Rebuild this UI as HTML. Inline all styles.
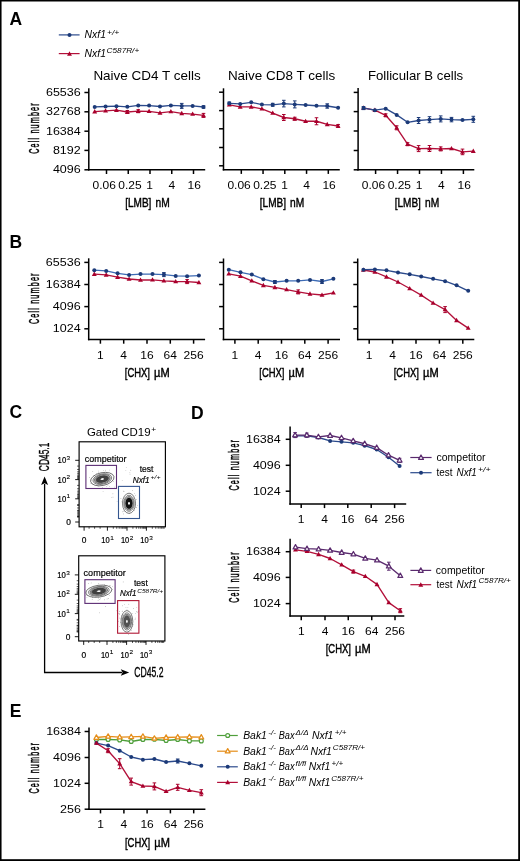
<!DOCTYPE html><html><head><meta charset="utf-8"><style>html,body{margin:0;padding:0;background:#fff;}body{width:520px;height:861px;overflow:hidden;}svg{display:block;will-change:transform;}text{font-family:"Liberation Sans",sans-serif;}</style></head><body>
<svg width="520" height="861" viewBox="0 0 520 861">
<rect x="0" y="0" width="520" height="861" fill="#fff"/>
<text x="9.60" y="25.20" font-size="17.5" font-weight="bold" fill="#000">A</text>
<line x1="58.80" y1="34.90" x2="79.60" y2="34.90" stroke="#2b4a8c" stroke-width="1.2"/>
<circle cx="69.50" cy="34.90" r="2.0" fill="#1c3a78"/>
<text x="84.60" y="38.10" font-size="11.2" textLength="21.4" lengthAdjust="spacingAndGlyphs" font-style="italic" fill="#000">Nxf1</text>
<text x="106.90" y="34.60" font-size="8.0" textLength="12.4" lengthAdjust="spacingAndGlyphs" font-style="italic" fill="#000">+/+</text>
<line x1="58.80" y1="53.60" x2="79.60" y2="53.60" stroke="#b3103a" stroke-width="1.2"/>
<path d="M69.50 51.30L71.95 55.65L67.05 55.65Z" fill="#a8002c"/>
<text x="84.60" y="57.00" font-size="11.2" textLength="21.4" lengthAdjust="spacingAndGlyphs" font-style="italic" fill="#000">Nxf1</text>
<text x="106.60" y="52.70" font-size="7.6" textLength="32.6" lengthAdjust="spacingAndGlyphs" font-style="italic" fill="#000">C587R/+</text>
<text x="93.40" y="80.00" font-size="13.3" textLength="107.3" lengthAdjust="spacingAndGlyphs" fill="#000">Naive CD4 T cells</text>
<text x="227.90" y="80.00" font-size="13.3" textLength="107.3" lengthAdjust="spacingAndGlyphs" fill="#000">Naive CD8 T cells</text>
<text x="367.90" y="79.90" font-size="13.3" textLength="95.3" lengthAdjust="spacingAndGlyphs" fill="#000">Follicular B cells</text>
<line x1="88.80" y1="88.30" x2="88.80" y2="170.55" stroke="#000" stroke-width="1.5"/>
<line x1="88.05" y1="169.80" x2="205.20" y2="169.80" stroke="#000" stroke-width="1.5"/>
<line x1="84.40" y1="92.50" x2="88.80" y2="92.50" stroke="#000" stroke-width="1.5"/>
<text x="45.95" y="95.90" font-size="11.3" textLength="34.75" lengthAdjust="spacingAndGlyphs" fill="#000">65536</text>
<line x1="84.40" y1="111.80" x2="88.80" y2="111.80" stroke="#000" stroke-width="1.5"/>
<text x="45.95" y="115.20" font-size="11.3" textLength="34.75" lengthAdjust="spacingAndGlyphs" fill="#000">32768</text>
<line x1="84.40" y1="131.20" x2="88.80" y2="131.20" stroke="#000" stroke-width="1.5"/>
<text x="45.95" y="134.60" font-size="11.3" textLength="34.75" lengthAdjust="spacingAndGlyphs" fill="#000">16384</text>
<line x1="84.40" y1="150.40" x2="88.80" y2="150.40" stroke="#000" stroke-width="1.5"/>
<text x="52.90" y="153.80" font-size="11.3" textLength="27.8" lengthAdjust="spacingAndGlyphs" fill="#000">8192</text>
<line x1="84.40" y1="169.80" x2="88.80" y2="169.80" stroke="#000" stroke-width="1.5"/>
<text x="52.90" y="173.20" font-size="11.3" textLength="27.8" lengthAdjust="spacingAndGlyphs" fill="#000">4096</text>
<line x1="106.50" y1="169.80" x2="106.50" y2="174.00" stroke="#000" stroke-width="1.5"/>
<text x="92.63" y="188.90" font-size="11.3" textLength="23.34" lengthAdjust="spacingAndGlyphs" fill="#000">0.06</text>
<line x1="128.25" y1="169.80" x2="128.25" y2="174.00" stroke="#000" stroke-width="1.5"/>
<text x="118.38" y="188.90" font-size="11.3" textLength="23.34" lengthAdjust="spacingAndGlyphs" fill="#000">0.25</text>
<line x1="150.00" y1="169.80" x2="150.00" y2="174.00" stroke="#000" stroke-width="1.5"/>
<text x="146.36" y="188.90" font-size="11.3" textLength="6.68" lengthAdjust="spacingAndGlyphs" fill="#000">1</text>
<line x1="171.75" y1="169.80" x2="171.75" y2="174.00" stroke="#000" stroke-width="1.5"/>
<text x="168.41" y="188.90" font-size="11.3" textLength="6.68" lengthAdjust="spacingAndGlyphs" fill="#000">4</text>
<line x1="193.50" y1="169.80" x2="193.50" y2="174.00" stroke="#000" stroke-width="1.5"/>
<text x="187.62" y="188.90" font-size="11.3" textLength="13.36" lengthAdjust="spacingAndGlyphs" fill="#000">16</text>
<text transform="translate(38.60,128.60) rotate(-90) scale(0.5,1)" x="1.17" y="0" font-size="14.4" text-anchor="middle" letter-spacing="2.34" fill="#000" stroke="#000" stroke-width="0.5">Cell number</text>
<text x="125.20" y="206.80" font-size="13.4" textLength="26.20" lengthAdjust="spacingAndGlyphs" fill="#000" stroke="#000" stroke-width="0.45">[LMB]</text>
<text x="155.50" y="206.80" font-size="13.4" textLength="14.20" lengthAdjust="spacingAndGlyphs" fill="#000" stroke="#000" stroke-width="0.45">nM</text>
<polyline points="94.70,111.70 105.58,110.80 116.46,110.20 127.34,112.00 138.22,111.20 149.10,111.30 159.98,112.90 170.86,111.60 181.74,113.40 192.62,114.10 203.50,115.40" fill="none" stroke="#b3103a" stroke-width="1.35" stroke-linejoin="round"/>
<path d="M127.34 110.50V113.50M125.54 110.50H129.14M125.54 113.50H129.14" stroke="#a8002c" stroke-width="1.0" fill="none"/>
<path d="M138.22 109.70V112.70M136.42 109.70H140.02M136.42 112.70H140.02" stroke="#a8002c" stroke-width="1.0" fill="none"/>
<path d="M203.50 113.40V117.40M201.70 113.40H205.30M201.70 117.40H205.30" stroke="#a8002c" stroke-width="1.0" fill="none"/>
<path d="M94.70 109.10L97.15 113.45L92.25 113.45Z" fill="#a8002c"/>
<path d="M105.58 108.20L108.03 112.55L103.13 112.55Z" fill="#a8002c"/>
<path d="M116.46 107.60L118.91 111.95L114.01 111.95Z" fill="#a8002c"/>
<path d="M127.34 109.40L129.79 113.75L124.89 113.75Z" fill="#a8002c"/>
<path d="M138.22 108.60L140.67 112.95L135.77 112.95Z" fill="#a8002c"/>
<path d="M149.10 108.70L151.55 113.05L146.65 113.05Z" fill="#a8002c"/>
<path d="M159.98 110.30L162.43 114.65L157.53 114.65Z" fill="#a8002c"/>
<path d="M170.86 109.00L173.31 113.35L168.41 113.35Z" fill="#a8002c"/>
<path d="M181.74 110.80L184.19 115.15L179.29 115.15Z" fill="#a8002c"/>
<path d="M192.62 111.50L195.07 115.85L190.17 115.85Z" fill="#a8002c"/>
<path d="M203.50 112.80L205.95 117.15L201.05 117.15Z" fill="#a8002c"/>
<polyline points="94.70,106.90 105.58,106.50 116.46,106.20 127.34,106.80 138.22,105.40 149.10,105.60 159.98,106.50 170.86,105.40 181.74,105.90 192.62,105.90 203.50,107.00" fill="none" stroke="#2b4a8c" stroke-width="1.35" stroke-linejoin="round"/>
<path d="M181.74 103.40V108.40M179.94 103.40H183.54M179.94 108.40H183.54" stroke="#1c3a78" stroke-width="1.0" fill="none"/>
<path d="M203.50 105.80V108.20M201.70 105.80H205.30M201.70 108.20H205.30" stroke="#1c3a78" stroke-width="1.0" fill="none"/>
<circle cx="94.70" cy="106.90" r="2.0" fill="#1c3a78"/>
<circle cx="105.58" cy="106.50" r="2.0" fill="#1c3a78"/>
<circle cx="116.46" cy="106.20" r="2.0" fill="#1c3a78"/>
<circle cx="127.34" cy="106.80" r="2.0" fill="#1c3a78"/>
<circle cx="138.22" cy="105.40" r="2.0" fill="#1c3a78"/>
<circle cx="149.10" cy="105.60" r="2.0" fill="#1c3a78"/>
<circle cx="159.98" cy="106.50" r="2.0" fill="#1c3a78"/>
<circle cx="170.86" cy="105.40" r="2.0" fill="#1c3a78"/>
<circle cx="181.74" cy="105.90" r="2.0" fill="#1c3a78"/>
<circle cx="192.62" cy="105.90" r="2.0" fill="#1c3a78"/>
<circle cx="203.50" cy="107.00" r="2.0" fill="#1c3a78"/>
<line x1="223.50" y1="88.30" x2="223.50" y2="170.45" stroke="#000" stroke-width="1.5"/>
<line x1="222.75" y1="169.70" x2="339.80" y2="169.70" stroke="#000" stroke-width="1.5"/>
<line x1="219.10" y1="92.20" x2="223.50" y2="92.20" stroke="#000" stroke-width="1.5"/>
<line x1="219.10" y1="110.60" x2="223.50" y2="110.60" stroke="#000" stroke-width="1.5"/>
<line x1="219.10" y1="128.80" x2="223.50" y2="128.80" stroke="#000" stroke-width="1.5"/>
<line x1="219.10" y1="147.50" x2="223.50" y2="147.50" stroke="#000" stroke-width="1.5"/>
<line x1="219.10" y1="165.80" x2="223.50" y2="165.80" stroke="#000" stroke-width="1.5"/>
<line x1="241.30" y1="169.70" x2="241.30" y2="173.90" stroke="#000" stroke-width="1.5"/>
<text x="227.43" y="188.90" font-size="11.3" textLength="23.34" lengthAdjust="spacingAndGlyphs" fill="#000">0.06</text>
<line x1="263.05" y1="169.70" x2="263.05" y2="173.90" stroke="#000" stroke-width="1.5"/>
<text x="253.18" y="188.90" font-size="11.3" textLength="23.34" lengthAdjust="spacingAndGlyphs" fill="#000">0.25</text>
<line x1="284.80" y1="169.70" x2="284.80" y2="173.90" stroke="#000" stroke-width="1.5"/>
<text x="281.16" y="188.90" font-size="11.3" textLength="6.68" lengthAdjust="spacingAndGlyphs" fill="#000">1</text>
<line x1="306.55" y1="169.70" x2="306.55" y2="173.90" stroke="#000" stroke-width="1.5"/>
<text x="303.21" y="188.90" font-size="11.3" textLength="6.68" lengthAdjust="spacingAndGlyphs" fill="#000">4</text>
<line x1="328.30" y1="169.70" x2="328.30" y2="173.90" stroke="#000" stroke-width="1.5"/>
<text x="322.42" y="188.90" font-size="11.3" textLength="13.36" lengthAdjust="spacingAndGlyphs" fill="#000">16</text>
<text x="259.80" y="206.80" font-size="13.4" textLength="26.20" lengthAdjust="spacingAndGlyphs" fill="#000" stroke="#000" stroke-width="0.45">[LMB]</text>
<text x="290.10" y="206.80" font-size="13.4" textLength="14.20" lengthAdjust="spacingAndGlyphs" fill="#000" stroke="#000" stroke-width="0.45">nM</text>
<polyline points="229.30,104.80 240.20,106.90 251.20,106.90 261.90,108.80 272.70,113.10 283.80,117.50 294.75,118.75 305.60,121.25 316.50,121.25 327.25,124.40 338.10,126.00" fill="none" stroke="#b3103a" stroke-width="1.35" stroke-linejoin="round"/>
<path d="M283.80 114.50V120.50M282.00 114.50H285.60M282.00 120.50H285.60" stroke="#a8002c" stroke-width="1.0" fill="none"/>
<path d="M294.75 117.25V120.25M292.95 117.25H296.55M292.95 120.25H296.55" stroke="#a8002c" stroke-width="1.0" fill="none"/>
<path d="M316.50 117.75V124.75M314.70 117.75H318.30M314.70 124.75H318.30" stroke="#a8002c" stroke-width="1.0" fill="none"/>
<path d="M338.10 124.50V127.50M336.30 124.50H339.90M336.30 127.50H339.90" stroke="#a8002c" stroke-width="1.0" fill="none"/>
<path d="M229.30 102.20L231.75 106.55L226.85 106.55Z" fill="#a8002c"/>
<path d="M240.20 104.30L242.65 108.65L237.75 108.65Z" fill="#a8002c"/>
<path d="M251.20 104.30L253.65 108.65L248.75 108.65Z" fill="#a8002c"/>
<path d="M261.90 106.20L264.35 110.55L259.45 110.55Z" fill="#a8002c"/>
<path d="M272.70 110.50L275.15 114.85L270.25 114.85Z" fill="#a8002c"/>
<path d="M283.80 114.90L286.25 119.25L281.35 119.25Z" fill="#a8002c"/>
<path d="M294.75 116.15L297.20 120.50L292.30 120.50Z" fill="#a8002c"/>
<path d="M305.60 118.65L308.05 123.00L303.15 123.00Z" fill="#a8002c"/>
<path d="M316.50 118.65L318.95 123.00L314.05 123.00Z" fill="#a8002c"/>
<path d="M327.25 121.80L329.70 126.15L324.80 126.15Z" fill="#a8002c"/>
<path d="M338.10 123.40L340.55 127.75L335.65 127.75Z" fill="#a8002c"/>
<polyline points="229.30,103.30 240.20,103.90 251.20,102.30 261.90,104.60 272.70,104.80 283.80,103.60 294.75,104.40 305.60,105.00 316.50,105.75 327.25,106.00 338.10,107.75" fill="none" stroke="#2b4a8c" stroke-width="1.35" stroke-linejoin="round"/>
<path d="M229.30 102.10V104.50M227.50 102.10H231.10M227.50 104.50H231.10" stroke="#1c3a78" stroke-width="1.0" fill="none"/>
<path d="M272.70 103.30V106.30M270.90 103.30H274.50M270.90 106.30H274.50" stroke="#1c3a78" stroke-width="1.0" fill="none"/>
<path d="M283.80 100.30V106.90M282.00 100.30H285.60M282.00 106.90H285.60" stroke="#1c3a78" stroke-width="1.0" fill="none"/>
<path d="M294.75 100.90V107.90M292.95 100.90H296.55M292.95 107.90H296.55" stroke="#1c3a78" stroke-width="1.0" fill="none"/>
<path d="M327.25 103.80V108.20M325.45 103.80H329.05M325.45 108.20H329.05" stroke="#1c3a78" stroke-width="1.0" fill="none"/>
<circle cx="229.30" cy="103.30" r="2.0" fill="#1c3a78"/>
<circle cx="240.20" cy="103.90" r="2.0" fill="#1c3a78"/>
<circle cx="251.20" cy="102.30" r="2.0" fill="#1c3a78"/>
<circle cx="261.90" cy="104.60" r="2.0" fill="#1c3a78"/>
<circle cx="272.70" cy="104.80" r="2.0" fill="#1c3a78"/>
<circle cx="283.80" cy="103.60" r="2.0" fill="#1c3a78"/>
<circle cx="294.75" cy="104.40" r="2.0" fill="#1c3a78"/>
<circle cx="305.60" cy="105.00" r="2.0" fill="#1c3a78"/>
<circle cx="316.50" cy="105.75" r="2.0" fill="#1c3a78"/>
<circle cx="327.25" cy="106.00" r="2.0" fill="#1c3a78"/>
<circle cx="338.10" cy="107.75" r="2.0" fill="#1c3a78"/>
<line x1="358.10" y1="88.00" x2="358.10" y2="170.55" stroke="#000" stroke-width="1.5"/>
<line x1="357.35" y1="169.80" x2="474.30" y2="169.80" stroke="#000" stroke-width="1.5"/>
<line x1="353.70" y1="92.40" x2="358.10" y2="92.40" stroke="#000" stroke-width="1.5"/>
<line x1="353.70" y1="111.60" x2="358.10" y2="111.60" stroke="#000" stroke-width="1.5"/>
<line x1="353.70" y1="131.00" x2="358.10" y2="131.00" stroke="#000" stroke-width="1.5"/>
<line x1="353.70" y1="150.50" x2="358.10" y2="150.50" stroke="#000" stroke-width="1.5"/>
<line x1="353.70" y1="169.80" x2="358.10" y2="169.80" stroke="#000" stroke-width="1.5"/>
<line x1="375.60" y1="169.80" x2="375.60" y2="174.00" stroke="#000" stroke-width="1.5"/>
<text x="361.73" y="188.90" font-size="11.3" textLength="23.34" lengthAdjust="spacingAndGlyphs" fill="#000">0.06</text>
<line x1="397.55" y1="169.80" x2="397.55" y2="174.00" stroke="#000" stroke-width="1.5"/>
<text x="387.68" y="188.90" font-size="11.3" textLength="23.34" lengthAdjust="spacingAndGlyphs" fill="#000">0.25</text>
<line x1="419.50" y1="169.80" x2="419.50" y2="174.00" stroke="#000" stroke-width="1.5"/>
<text x="415.86" y="188.90" font-size="11.3" textLength="6.68" lengthAdjust="spacingAndGlyphs" fill="#000">1</text>
<line x1="441.45" y1="169.80" x2="441.45" y2="174.00" stroke="#000" stroke-width="1.5"/>
<text x="438.11" y="188.90" font-size="11.3" textLength="6.68" lengthAdjust="spacingAndGlyphs" fill="#000">4</text>
<line x1="463.40" y1="169.80" x2="463.40" y2="174.00" stroke="#000" stroke-width="1.5"/>
<text x="457.52" y="188.90" font-size="11.3" textLength="13.36" lengthAdjust="spacingAndGlyphs" fill="#000">16</text>
<text x="394.70" y="206.80" font-size="13.4" textLength="26.20" lengthAdjust="spacingAndGlyphs" fill="#000" stroke="#000" stroke-width="0.45">[LMB]</text>
<text x="425.00" y="206.80" font-size="13.4" textLength="14.20" lengthAdjust="spacingAndGlyphs" fill="#000" stroke="#000" stroke-width="0.45">nM</text>
<polyline points="363.50,107.90 374.90,110.20 385.70,115.30 396.70,127.80 407.60,144.20 418.60,148.60 429.50,148.50 440.70,148.90 451.50,148.50 462.50,151.90 473.30,151.20" fill="none" stroke="#b3103a" stroke-width="1.35" stroke-linejoin="round"/>
<path d="M385.70 113.80V116.80M383.90 113.80H387.50M383.90 116.80H387.50" stroke="#a8002c" stroke-width="1.0" fill="none"/>
<path d="M396.70 125.80V129.80M394.90 125.80H398.50M394.90 129.80H398.50" stroke="#a8002c" stroke-width="1.0" fill="none"/>
<path d="M407.60 142.70V145.70M405.80 142.70H409.40M405.80 145.70H409.40" stroke="#a8002c" stroke-width="1.0" fill="none"/>
<path d="M418.60 145.60V151.60M416.80 145.60H420.40M416.80 151.60H420.40" stroke="#a8002c" stroke-width="1.0" fill="none"/>
<path d="M429.50 145.50V151.50M427.70 145.50H431.30M427.70 151.50H431.30" stroke="#a8002c" stroke-width="1.0" fill="none"/>
<path d="M440.70 146.90V150.90M438.90 146.90H442.50M438.90 150.90H442.50" stroke="#a8002c" stroke-width="1.0" fill="none"/>
<path d="M462.50 149.10V154.70M460.70 149.10H464.30M460.70 154.70H464.30" stroke="#a8002c" stroke-width="1.0" fill="none"/>
<path d="M363.50 105.30L365.95 109.65L361.05 109.65Z" fill="#a8002c"/>
<path d="M374.90 107.60L377.35 111.95L372.45 111.95Z" fill="#a8002c"/>
<path d="M385.70 112.70L388.15 117.05L383.25 117.05Z" fill="#a8002c"/>
<path d="M396.70 125.20L399.15 129.55L394.25 129.55Z" fill="#a8002c"/>
<path d="M407.60 141.60L410.05 145.95L405.15 145.95Z" fill="#a8002c"/>
<path d="M418.60 146.00L421.05 150.35L416.15 150.35Z" fill="#a8002c"/>
<path d="M429.50 145.90L431.95 150.25L427.05 150.25Z" fill="#a8002c"/>
<path d="M440.70 146.30L443.15 150.65L438.25 150.65Z" fill="#a8002c"/>
<path d="M451.50 145.90L453.95 150.25L449.05 150.25Z" fill="#a8002c"/>
<path d="M462.50 149.30L464.95 153.65L460.05 153.65Z" fill="#a8002c"/>
<path d="M473.30 148.60L475.75 152.95L470.85 152.95Z" fill="#a8002c"/>
<polyline points="363.50,108.10 374.90,110.20 385.70,108.70 396.70,114.90 407.60,122.30 418.60,120.50 429.50,119.70 440.70,118.90 451.50,119.60 462.50,120.00 473.30,119.30" fill="none" stroke="#2b4a8c" stroke-width="1.35" stroke-linejoin="round"/>
<path d="M363.50 106.60V109.60M361.70 106.60H365.30M361.70 109.60H365.30" stroke="#1c3a78" stroke-width="1.0" fill="none"/>
<path d="M418.60 117.50V123.50M416.80 117.50H420.40M416.80 123.50H420.40" stroke="#1c3a78" stroke-width="1.0" fill="none"/>
<path d="M429.50 116.70V122.70M427.70 116.70H431.30M427.70 122.70H431.30" stroke="#1c3a78" stroke-width="1.0" fill="none"/>
<path d="M440.70 115.90V121.90M438.90 115.90H442.50M438.90 121.90H442.50" stroke="#1c3a78" stroke-width="1.0" fill="none"/>
<path d="M451.50 117.40V121.80M449.70 117.40H453.30M449.70 121.80H453.30" stroke="#1c3a78" stroke-width="1.0" fill="none"/>
<path d="M473.30 116.30V122.30M471.50 116.30H475.10M471.50 122.30H475.10" stroke="#1c3a78" stroke-width="1.0" fill="none"/>
<circle cx="363.50" cy="108.10" r="2.0" fill="#1c3a78"/>
<circle cx="374.90" cy="110.20" r="2.0" fill="#1c3a78"/>
<circle cx="385.70" cy="108.70" r="2.0" fill="#1c3a78"/>
<circle cx="396.70" cy="114.90" r="2.0" fill="#1c3a78"/>
<circle cx="407.60" cy="122.30" r="2.0" fill="#1c3a78"/>
<circle cx="418.60" cy="120.50" r="2.0" fill="#1c3a78"/>
<circle cx="429.50" cy="119.70" r="2.0" fill="#1c3a78"/>
<circle cx="440.70" cy="118.90" r="2.0" fill="#1c3a78"/>
<circle cx="451.50" cy="119.60" r="2.0" fill="#1c3a78"/>
<circle cx="462.50" cy="120.00" r="2.0" fill="#1c3a78"/>
<circle cx="473.30" cy="119.30" r="2.0" fill="#1c3a78"/>
<text x="9.60" y="248.20" font-size="17.5" font-weight="bold" fill="#000">B</text>
<line x1="88.70" y1="258.30" x2="88.70" y2="340.25" stroke="#000" stroke-width="1.5"/>
<line x1="87.95" y1="339.50" x2="205.10" y2="339.50" stroke="#000" stroke-width="1.5"/>
<line x1="84.30" y1="262.40" x2="88.70" y2="262.40" stroke="#000" stroke-width="1.5"/>
<text x="45.85" y="265.80" font-size="11.3" textLength="34.75" lengthAdjust="spacingAndGlyphs" fill="#000">65536</text>
<line x1="84.30" y1="284.50" x2="88.70" y2="284.50" stroke="#000" stroke-width="1.5"/>
<text x="45.85" y="287.90" font-size="11.3" textLength="34.75" lengthAdjust="spacingAndGlyphs" fill="#000">16384</text>
<line x1="84.30" y1="306.60" x2="88.70" y2="306.60" stroke="#000" stroke-width="1.5"/>
<text x="52.80" y="310.00" font-size="11.3" textLength="27.8" lengthAdjust="spacingAndGlyphs" fill="#000">4096</text>
<line x1="84.30" y1="328.80" x2="88.70" y2="328.80" stroke="#000" stroke-width="1.5"/>
<text x="52.80" y="332.20" font-size="11.3" textLength="27.8" lengthAdjust="spacingAndGlyphs" fill="#000">1024</text>
<line x1="100.40" y1="339.50" x2="100.40" y2="343.70" stroke="#000" stroke-width="1.5"/>
<text x="97.06" y="358.90" font-size="11.3" textLength="6.68" lengthAdjust="spacingAndGlyphs" fill="#000">1</text>
<line x1="123.70" y1="339.50" x2="123.70" y2="343.70" stroke="#000" stroke-width="1.5"/>
<text x="120.36" y="358.90" font-size="11.3" textLength="6.68" lengthAdjust="spacingAndGlyphs" fill="#000">4</text>
<line x1="147.00" y1="339.50" x2="147.00" y2="343.70" stroke="#000" stroke-width="1.5"/>
<text x="140.32" y="358.90" font-size="11.3" textLength="13.36" lengthAdjust="spacingAndGlyphs" fill="#000">16</text>
<line x1="170.30" y1="339.50" x2="170.30" y2="343.70" stroke="#000" stroke-width="1.5"/>
<text x="163.62" y="358.90" font-size="11.3" textLength="13.36" lengthAdjust="spacingAndGlyphs" fill="#000">64</text>
<line x1="193.60" y1="339.50" x2="193.60" y2="343.70" stroke="#000" stroke-width="1.5"/>
<text x="183.58" y="358.90" font-size="11.3" textLength="20.04" lengthAdjust="spacingAndGlyphs" fill="#000">256</text>
<text transform="translate(38.50,298.80) rotate(-90) scale(0.5,1)" x="1.17" y="0" font-size="14.4" text-anchor="middle" letter-spacing="2.34" fill="#000" stroke="#000" stroke-width="0.5">Cell number</text>
<text x="124.80" y="377.40" font-size="13.4" textLength="25.20" lengthAdjust="spacingAndGlyphs" fill="#000" stroke="#000" stroke-width="0.45">[CHX]</text>
<text x="154.10" y="377.40" font-size="13.4" textLength="15.60" lengthAdjust="spacingAndGlyphs" fill="#000" stroke="#000" stroke-width="0.45">&#181;M</text>
<polyline points="94.30,274.20 106.20,274.90 117.60,277.20 129.10,279.00 140.50,280.00 152.50,279.80 163.90,280.80 175.70,281.50 187.10,281.60 198.90,282.50" fill="none" stroke="#b3103a" stroke-width="1.35" stroke-linejoin="round"/>
<path d="M187.10 279.60V283.60M185.30 279.60H188.90M185.30 283.60H188.90" stroke="#a8002c" stroke-width="1.0" fill="none"/>
<path d="M94.30 271.60L96.75 275.95L91.85 275.95Z" fill="#a8002c"/>
<path d="M106.20 272.30L108.65 276.65L103.75 276.65Z" fill="#a8002c"/>
<path d="M117.60 274.60L120.05 278.95L115.15 278.95Z" fill="#a8002c"/>
<path d="M129.10 276.40L131.55 280.75L126.65 280.75Z" fill="#a8002c"/>
<path d="M140.50 277.40L142.95 281.75L138.05 281.75Z" fill="#a8002c"/>
<path d="M152.50 277.20L154.95 281.55L150.05 281.55Z" fill="#a8002c"/>
<path d="M163.90 278.20L166.35 282.55L161.45 282.55Z" fill="#a8002c"/>
<path d="M175.70 278.90L178.15 283.25L173.25 283.25Z" fill="#a8002c"/>
<path d="M187.10 279.00L189.55 283.35L184.65 283.35Z" fill="#a8002c"/>
<path d="M198.90 279.90L201.35 284.25L196.45 284.25Z" fill="#a8002c"/>
<polyline points="94.30,270.20 106.20,270.90 117.60,273.30 129.10,274.90 140.50,274.10 152.50,274.10 163.90,274.60 175.70,275.90 187.10,276.20 198.90,275.60" fill="none" stroke="#3d6bb5" stroke-width="1.35" stroke-linejoin="round"/>
<path d="M163.90 272.60V276.60M162.10 272.60H165.70M162.10 276.60H165.70" stroke="#1c3a78" stroke-width="1.0" fill="none"/>
<circle cx="94.30" cy="270.20" r="2.0" fill="#1c3a78"/>
<circle cx="106.20" cy="270.90" r="2.0" fill="#1c3a78"/>
<circle cx="117.60" cy="273.30" r="2.0" fill="#1c3a78"/>
<circle cx="129.10" cy="274.90" r="2.0" fill="#1c3a78"/>
<circle cx="140.50" cy="274.10" r="2.0" fill="#1c3a78"/>
<circle cx="152.50" cy="274.10" r="2.0" fill="#1c3a78"/>
<circle cx="163.90" cy="274.60" r="2.0" fill="#1c3a78"/>
<circle cx="175.70" cy="275.90" r="2.0" fill="#1c3a78"/>
<circle cx="187.10" cy="276.20" r="2.0" fill="#1c3a78"/>
<circle cx="198.90" cy="275.60" r="2.0" fill="#1c3a78"/>
<line x1="223.50" y1="258.50" x2="223.50" y2="340.25" stroke="#000" stroke-width="1.5"/>
<line x1="222.75" y1="339.50" x2="340.00" y2="339.50" stroke="#000" stroke-width="1.5"/>
<line x1="219.10" y1="262.40" x2="223.50" y2="262.40" stroke="#000" stroke-width="1.5"/>
<line x1="219.10" y1="284.50" x2="223.50" y2="284.50" stroke="#000" stroke-width="1.5"/>
<line x1="219.10" y1="306.60" x2="223.50" y2="306.60" stroke="#000" stroke-width="1.5"/>
<line x1="219.10" y1="328.80" x2="223.50" y2="328.80" stroke="#000" stroke-width="1.5"/>
<line x1="234.90" y1="339.50" x2="234.90" y2="343.70" stroke="#000" stroke-width="1.5"/>
<text x="231.56" y="358.90" font-size="11.3" textLength="6.68" lengthAdjust="spacingAndGlyphs" fill="#000">1</text>
<line x1="258.20" y1="339.50" x2="258.20" y2="343.70" stroke="#000" stroke-width="1.5"/>
<text x="254.86" y="358.90" font-size="11.3" textLength="6.68" lengthAdjust="spacingAndGlyphs" fill="#000">4</text>
<line x1="281.50" y1="339.50" x2="281.50" y2="343.70" stroke="#000" stroke-width="1.5"/>
<text x="274.82" y="358.90" font-size="11.3" textLength="13.36" lengthAdjust="spacingAndGlyphs" fill="#000">16</text>
<line x1="304.80" y1="339.50" x2="304.80" y2="343.70" stroke="#000" stroke-width="1.5"/>
<text x="298.12" y="358.90" font-size="11.3" textLength="13.36" lengthAdjust="spacingAndGlyphs" fill="#000">64</text>
<line x1="328.10" y1="339.50" x2="328.10" y2="343.70" stroke="#000" stroke-width="1.5"/>
<text x="318.08" y="358.90" font-size="11.3" textLength="20.04" lengthAdjust="spacingAndGlyphs" fill="#000">256</text>
<text x="259.30" y="377.40" font-size="13.4" textLength="25.20" lengthAdjust="spacingAndGlyphs" fill="#000" stroke="#000" stroke-width="0.45">[CHX]</text>
<text x="288.60" y="377.40" font-size="13.4" textLength="15.60" lengthAdjust="spacingAndGlyphs" fill="#000" stroke="#000" stroke-width="0.45">&#181;M</text>
<polyline points="228.80,273.80 240.50,276.20 251.80,280.80 263.40,285.40 274.90,287.40 286.60,289.60 298.20,291.90 310.00,293.90 322.00,295.00 333.40,292.80" fill="none" stroke="#b3103a" stroke-width="1.35" stroke-linejoin="round"/>
<path d="M298.20 289.90V293.90M296.40 289.90H300.00M296.40 293.90H300.00" stroke="#a8002c" stroke-width="1.0" fill="none"/>
<path d="M228.80 271.20L231.25 275.55L226.35 275.55Z" fill="#a8002c"/>
<path d="M240.50 273.60L242.95 277.95L238.05 277.95Z" fill="#a8002c"/>
<path d="M251.80 278.20L254.25 282.55L249.35 282.55Z" fill="#a8002c"/>
<path d="M263.40 282.80L265.85 287.15L260.95 287.15Z" fill="#a8002c"/>
<path d="M274.90 284.80L277.35 289.15L272.45 289.15Z" fill="#a8002c"/>
<path d="M286.60 287.00L289.05 291.35L284.15 291.35Z" fill="#a8002c"/>
<path d="M298.20 289.30L300.65 293.65L295.75 293.65Z" fill="#a8002c"/>
<path d="M310.00 291.30L312.45 295.65L307.55 295.65Z" fill="#a8002c"/>
<path d="M322.00 292.40L324.45 296.75L319.55 296.75Z" fill="#a8002c"/>
<path d="M333.40 290.20L335.85 294.55L330.95 294.55Z" fill="#a8002c"/>
<polyline points="228.80,269.70 240.50,272.30 251.80,274.60 263.40,279.20 274.90,282.00 286.60,280.80 298.20,280.80 310.00,279.90 322.00,281.50 333.40,278.80" fill="none" stroke="#3d6bb5" stroke-width="1.35" stroke-linejoin="round"/>
<path d="M274.90 280.50V283.50M273.10 280.50H276.70M273.10 283.50H276.70" stroke="#1c3a78" stroke-width="1.0" fill="none"/>
<path d="M322.00 279.50V283.50M320.20 279.50H323.80M320.20 283.50H323.80" stroke="#1c3a78" stroke-width="1.0" fill="none"/>
<circle cx="228.80" cy="269.70" r="2.0" fill="#1c3a78"/>
<circle cx="240.50" cy="272.30" r="2.0" fill="#1c3a78"/>
<circle cx="251.80" cy="274.60" r="2.0" fill="#1c3a78"/>
<circle cx="263.40" cy="279.20" r="2.0" fill="#1c3a78"/>
<circle cx="274.90" cy="282.00" r="2.0" fill="#1c3a78"/>
<circle cx="286.60" cy="280.80" r="2.0" fill="#1c3a78"/>
<circle cx="298.20" cy="280.80" r="2.0" fill="#1c3a78"/>
<circle cx="310.00" cy="279.90" r="2.0" fill="#1c3a78"/>
<circle cx="322.00" cy="281.50" r="2.0" fill="#1c3a78"/>
<circle cx="333.40" cy="278.80" r="2.0" fill="#1c3a78"/>
<line x1="357.70" y1="258.50" x2="357.70" y2="340.25" stroke="#000" stroke-width="1.5"/>
<line x1="356.95" y1="339.50" x2="474.30" y2="339.50" stroke="#000" stroke-width="1.5"/>
<line x1="353.30" y1="262.40" x2="357.70" y2="262.40" stroke="#000" stroke-width="1.5"/>
<line x1="353.30" y1="284.50" x2="357.70" y2="284.50" stroke="#000" stroke-width="1.5"/>
<line x1="353.30" y1="306.60" x2="357.70" y2="306.60" stroke="#000" stroke-width="1.5"/>
<line x1="353.30" y1="328.80" x2="357.70" y2="328.80" stroke="#000" stroke-width="1.5"/>
<line x1="369.20" y1="339.50" x2="369.20" y2="343.70" stroke="#000" stroke-width="1.5"/>
<text x="365.86" y="358.90" font-size="11.3" textLength="6.68" lengthAdjust="spacingAndGlyphs" fill="#000">1</text>
<line x1="392.60" y1="339.50" x2="392.60" y2="343.70" stroke="#000" stroke-width="1.5"/>
<text x="389.26" y="358.90" font-size="11.3" textLength="6.68" lengthAdjust="spacingAndGlyphs" fill="#000">4</text>
<line x1="416.00" y1="339.50" x2="416.00" y2="343.70" stroke="#000" stroke-width="1.5"/>
<text x="409.32" y="358.90" font-size="11.3" textLength="13.36" lengthAdjust="spacingAndGlyphs" fill="#000">16</text>
<line x1="439.40" y1="339.50" x2="439.40" y2="343.70" stroke="#000" stroke-width="1.5"/>
<text x="432.72" y="358.90" font-size="11.3" textLength="13.36" lengthAdjust="spacingAndGlyphs" fill="#000">64</text>
<line x1="462.80" y1="339.50" x2="462.80" y2="343.70" stroke="#000" stroke-width="1.5"/>
<text x="452.78" y="358.90" font-size="11.3" textLength="20.04" lengthAdjust="spacingAndGlyphs" fill="#000">256</text>
<text x="393.70" y="377.40" font-size="13.4" textLength="25.20" lengthAdjust="spacingAndGlyphs" fill="#000" stroke="#000" stroke-width="0.45">[CHX]</text>
<text x="423.00" y="377.40" font-size="13.4" textLength="15.60" lengthAdjust="spacingAndGlyphs" fill="#000" stroke="#000" stroke-width="0.45">&#181;M</text>
<polyline points="363.40,270.00 374.90,272.00 386.50,276.90 398.00,282.00 409.70,288.50 421.20,295.10 433.10,303.00 445.10,309.60 456.60,320.40 468.20,328.10" fill="none" stroke="#b3103a" stroke-width="1.35" stroke-linejoin="round"/>
<path d="M445.10 306.60V312.60M443.30 306.60H446.90M443.30 312.60H446.90" stroke="#a8002c" stroke-width="1.0" fill="none"/>
<path d="M363.40 267.40L365.85 271.75L360.95 271.75Z" fill="#a8002c"/>
<path d="M374.90 269.40L377.35 273.75L372.45 273.75Z" fill="#a8002c"/>
<path d="M386.50 274.30L388.95 278.65L384.05 278.65Z" fill="#a8002c"/>
<path d="M398.00 279.40L400.45 283.75L395.55 283.75Z" fill="#a8002c"/>
<path d="M409.70 285.90L412.15 290.25L407.25 290.25Z" fill="#a8002c"/>
<path d="M421.20 292.50L423.65 296.85L418.75 296.85Z" fill="#a8002c"/>
<path d="M433.10 300.40L435.55 304.75L430.65 304.75Z" fill="#a8002c"/>
<path d="M445.10 307.00L447.55 311.35L442.65 311.35Z" fill="#a8002c"/>
<path d="M456.60 317.80L459.05 322.15L454.15 322.15Z" fill="#a8002c"/>
<path d="M468.20 325.50L470.65 329.85L465.75 329.85Z" fill="#a8002c"/>
<polyline points="363.40,269.70 374.90,269.50 386.50,270.30 398.00,272.50 409.70,274.30 421.20,276.50 433.10,278.80 445.10,281.20 456.60,285.30 468.20,290.80" fill="none" stroke="#2b4a8c" stroke-width="1.35" stroke-linejoin="round"/>
<circle cx="363.40" cy="269.70" r="2.0" fill="#1c3a78"/>
<circle cx="374.90" cy="269.50" r="2.0" fill="#1c3a78"/>
<circle cx="386.50" cy="270.30" r="2.0" fill="#1c3a78"/>
<circle cx="398.00" cy="272.50" r="2.0" fill="#1c3a78"/>
<circle cx="409.70" cy="274.30" r="2.0" fill="#1c3a78"/>
<circle cx="421.20" cy="276.50" r="2.0" fill="#1c3a78"/>
<circle cx="433.10" cy="278.80" r="2.0" fill="#1c3a78"/>
<circle cx="445.10" cy="281.20" r="2.0" fill="#1c3a78"/>
<circle cx="456.60" cy="285.30" r="2.0" fill="#1c3a78"/>
<circle cx="468.20" cy="290.80" r="2.0" fill="#1c3a78"/>
<text x="9.40" y="418.40" font-size="17.5" font-weight="bold" fill="#000">C</text>
<text x="86.90" y="436.40" font-size="11.6" textLength="63.7" lengthAdjust="spacingAndGlyphs" fill="#000">Gated CD19</text>
<text x="151.30" y="431.80" font-size="8" textLength="4.9" lengthAdjust="spacingAndGlyphs" fill="#000">+</text>
<rect x="79.10" y="441.80" width="86.30" height="85.00" fill="none" stroke="#000" stroke-width="1.15"/>
<line x1="75.20" y1="522.00" x2="79.10" y2="522.00" stroke="#000" stroke-width="0.9"/>
<line x1="75.20" y1="498.80" x2="79.10" y2="498.80" stroke="#000" stroke-width="0.9"/>
<line x1="75.20" y1="479.60" x2="79.10" y2="479.60" stroke="#000" stroke-width="0.9"/>
<line x1="75.20" y1="460.30" x2="79.10" y2="460.30" stroke="#000" stroke-width="0.9"/>
<line x1="77.10" y1="504.58" x2="79.10" y2="504.58" stroke="#000" stroke-width="0.65"/>
<line x1="77.10" y1="507.96" x2="79.10" y2="507.96" stroke="#000" stroke-width="0.65"/>
<line x1="77.10" y1="510.36" x2="79.10" y2="510.36" stroke="#000" stroke-width="0.65"/>
<line x1="77.10" y1="512.22" x2="79.10" y2="512.22" stroke="#000" stroke-width="0.65"/>
<line x1="77.10" y1="513.74" x2="79.10" y2="513.74" stroke="#000" stroke-width="0.65"/>
<line x1="77.10" y1="515.03" x2="79.10" y2="515.03" stroke="#000" stroke-width="0.65"/>
<line x1="77.10" y1="516.14" x2="79.10" y2="516.14" stroke="#000" stroke-width="0.65"/>
<line x1="77.10" y1="517.12" x2="79.10" y2="517.12" stroke="#000" stroke-width="0.65"/>
<line x1="77.10" y1="485.38" x2="79.10" y2="485.38" stroke="#000" stroke-width="0.65"/>
<line x1="77.10" y1="488.76" x2="79.10" y2="488.76" stroke="#000" stroke-width="0.65"/>
<line x1="77.10" y1="491.16" x2="79.10" y2="491.16" stroke="#000" stroke-width="0.65"/>
<line x1="77.10" y1="493.02" x2="79.10" y2="493.02" stroke="#000" stroke-width="0.65"/>
<line x1="77.10" y1="494.54" x2="79.10" y2="494.54" stroke="#000" stroke-width="0.65"/>
<line x1="77.10" y1="495.83" x2="79.10" y2="495.83" stroke="#000" stroke-width="0.65"/>
<line x1="77.10" y1="496.94" x2="79.10" y2="496.94" stroke="#000" stroke-width="0.65"/>
<line x1="77.10" y1="497.92" x2="79.10" y2="497.92" stroke="#000" stroke-width="0.65"/>
<line x1="77.10" y1="466.08" x2="79.10" y2="466.08" stroke="#000" stroke-width="0.65"/>
<line x1="77.10" y1="469.46" x2="79.10" y2="469.46" stroke="#000" stroke-width="0.65"/>
<line x1="77.10" y1="471.86" x2="79.10" y2="471.86" stroke="#000" stroke-width="0.65"/>
<line x1="77.10" y1="473.72" x2="79.10" y2="473.72" stroke="#000" stroke-width="0.65"/>
<line x1="77.10" y1="475.24" x2="79.10" y2="475.24" stroke="#000" stroke-width="0.65"/>
<line x1="77.10" y1="476.53" x2="79.10" y2="476.53" stroke="#000" stroke-width="0.65"/>
<line x1="77.10" y1="477.64" x2="79.10" y2="477.64" stroke="#000" stroke-width="0.65"/>
<line x1="77.10" y1="478.62" x2="79.10" y2="478.62" stroke="#000" stroke-width="0.65"/>
<line x1="77.10" y1="516.50" x2="79.10" y2="516.50" stroke="#000" stroke-width="0.65"/>
<line x1="77.10" y1="511.00" x2="79.10" y2="511.00" stroke="#000" stroke-width="0.65"/>
<line x1="77.10" y1="505.50" x2="79.10" y2="505.50" stroke="#000" stroke-width="0.65"/>
<text x="70.90" y="524.90" font-size="8.4" text-anchor="end" fill="#000" stroke="#000" stroke-width="0.2">0</text>
<text x="57.60" y="501.70" font-size="8.4" textLength="8.6" lengthAdjust="spacingAndGlyphs" fill="#000" stroke="#000" stroke-width="0.2">10</text>
<text x="66.60" y="498.40" font-size="6.0" textLength="3.6" lengthAdjust="spacingAndGlyphs" fill="#000" stroke="#000" stroke-width="0.1">1</text>
<text x="57.60" y="482.50" font-size="8.4" textLength="8.6" lengthAdjust="spacingAndGlyphs" fill="#000" stroke="#000" stroke-width="0.2">10</text>
<text x="66.60" y="479.20" font-size="6.0" textLength="3.6" lengthAdjust="spacingAndGlyphs" fill="#000" stroke="#000" stroke-width="0.1">2</text>
<text x="57.60" y="463.20" font-size="8.4" textLength="8.6" lengthAdjust="spacingAndGlyphs" fill="#000" stroke="#000" stroke-width="0.2">10</text>
<text x="66.60" y="459.90" font-size="6.0" textLength="3.6" lengthAdjust="spacingAndGlyphs" fill="#000" stroke="#000" stroke-width="0.1">3</text>
<line x1="84.10" y1="526.80" x2="84.10" y2="530.70" stroke="#000" stroke-width="0.9"/>
<line x1="107.40" y1="526.80" x2="107.40" y2="530.70" stroke="#000" stroke-width="0.9"/>
<line x1="127.00" y1="526.80" x2="127.00" y2="530.70" stroke="#000" stroke-width="0.9"/>
<line x1="146.40" y1="526.80" x2="146.40" y2="530.70" stroke="#000" stroke-width="0.9"/>
<line x1="113.30" y1="526.80" x2="113.30" y2="528.80" stroke="#000" stroke-width="0.65"/>
<line x1="116.75" y1="526.80" x2="116.75" y2="528.80" stroke="#000" stroke-width="0.65"/>
<line x1="119.20" y1="526.80" x2="119.20" y2="528.80" stroke="#000" stroke-width="0.65"/>
<line x1="121.10" y1="526.80" x2="121.10" y2="528.80" stroke="#000" stroke-width="0.65"/>
<line x1="122.65" y1="526.80" x2="122.65" y2="528.80" stroke="#000" stroke-width="0.65"/>
<line x1="123.96" y1="526.80" x2="123.96" y2="528.80" stroke="#000" stroke-width="0.65"/>
<line x1="125.10" y1="526.80" x2="125.10" y2="528.80" stroke="#000" stroke-width="0.65"/>
<line x1="126.10" y1="526.80" x2="126.10" y2="528.80" stroke="#000" stroke-width="0.65"/>
<line x1="132.90" y1="526.80" x2="132.90" y2="528.80" stroke="#000" stroke-width="0.65"/>
<line x1="136.35" y1="526.80" x2="136.35" y2="528.80" stroke="#000" stroke-width="0.65"/>
<line x1="138.80" y1="526.80" x2="138.80" y2="528.80" stroke="#000" stroke-width="0.65"/>
<line x1="140.70" y1="526.80" x2="140.70" y2="528.80" stroke="#000" stroke-width="0.65"/>
<line x1="142.25" y1="526.80" x2="142.25" y2="528.80" stroke="#000" stroke-width="0.65"/>
<line x1="143.56" y1="526.80" x2="143.56" y2="528.80" stroke="#000" stroke-width="0.65"/>
<line x1="144.70" y1="526.80" x2="144.70" y2="528.80" stroke="#000" stroke-width="0.65"/>
<line x1="145.70" y1="526.80" x2="145.70" y2="528.80" stroke="#000" stroke-width="0.65"/>
<line x1="152.30" y1="526.80" x2="152.30" y2="528.80" stroke="#000" stroke-width="0.65"/>
<line x1="155.75" y1="526.80" x2="155.75" y2="528.80" stroke="#000" stroke-width="0.65"/>
<line x1="158.20" y1="526.80" x2="158.20" y2="528.80" stroke="#000" stroke-width="0.65"/>
<line x1="160.10" y1="526.80" x2="160.10" y2="528.80" stroke="#000" stroke-width="0.65"/>
<line x1="161.65" y1="526.80" x2="161.65" y2="528.80" stroke="#000" stroke-width="0.65"/>
<line x1="162.96" y1="526.80" x2="162.96" y2="528.80" stroke="#000" stroke-width="0.65"/>
<line x1="164.10" y1="526.80" x2="164.10" y2="528.80" stroke="#000" stroke-width="0.65"/>
<line x1="89.10" y1="526.80" x2="89.10" y2="528.80" stroke="#000" stroke-width="0.65"/>
<line x1="94.60" y1="526.80" x2="94.60" y2="528.80" stroke="#000" stroke-width="0.65"/>
<line x1="100.10" y1="526.80" x2="100.10" y2="528.80" stroke="#000" stroke-width="0.65"/>
<text x="84.20" y="543.40" font-size="8.4" text-anchor="middle" fill="#000" stroke="#000" stroke-width="0.2">0</text>
<text x="101.30" y="543.40" font-size="8.4" textLength="8.4" lengthAdjust="spacingAndGlyphs" fill="#000" stroke="#000" stroke-width="0.2">10</text>
<text x="110.20" y="540.00" font-size="6.0" textLength="3.6" lengthAdjust="spacingAndGlyphs" fill="#000" stroke="#000" stroke-width="0.1">1</text>
<text x="120.90" y="543.40" font-size="8.4" textLength="8.4" lengthAdjust="spacingAndGlyphs" fill="#000" stroke="#000" stroke-width="0.2">10</text>
<text x="129.80" y="540.00" font-size="6.0" textLength="3.6" lengthAdjust="spacingAndGlyphs" fill="#000" stroke="#000" stroke-width="0.1">2</text>
<text x="140.30" y="543.40" font-size="8.4" textLength="8.4" lengthAdjust="spacingAndGlyphs" fill="#000" stroke="#000" stroke-width="0.2">10</text>
<text x="149.20" y="540.00" font-size="6.0" textLength="3.6" lengthAdjust="spacingAndGlyphs" fill="#000" stroke="#000" stroke-width="0.1">3</text>
<circle cx="99.87" cy="482.82" r="0.33" fill="#666"/>
<circle cx="100.10" cy="476.59" r="0.33" fill="#666"/>
<circle cx="94.05" cy="477.51" r="0.33" fill="#666"/>
<circle cx="111.62" cy="481.79" r="0.33" fill="#666"/>
<circle cx="111.26" cy="480.69" r="0.33" fill="#666"/>
<circle cx="106.12" cy="480.41" r="0.33" fill="#666"/>
<circle cx="90.97" cy="483.57" r="0.33" fill="#666"/>
<circle cx="107.01" cy="482.65" r="0.33" fill="#666"/>
<circle cx="92.81" cy="471.31" r="0.33" fill="#666"/>
<circle cx="94.50" cy="475.77" r="0.33" fill="#666"/>
<circle cx="105.29" cy="478.65" r="0.33" fill="#666"/>
<circle cx="107.05" cy="474.40" r="0.33" fill="#666"/>
<circle cx="105.26" cy="481.97" r="0.33" fill="#666"/>
<circle cx="97.76" cy="488.27" r="0.33" fill="#666"/>
<circle cx="106.80" cy="486.61" r="0.33" fill="#666"/>
<circle cx="96.81" cy="473.86" r="0.33" fill="#666"/>
<circle cx="98.95" cy="478.19" r="0.33" fill="#666"/>
<circle cx="108.21" cy="480.83" r="0.33" fill="#666"/>
<circle cx="98.42" cy="472.48" r="0.33" fill="#666"/>
<circle cx="98.10" cy="486.74" r="0.33" fill="#666"/>
<circle cx="94.96" cy="480.75" r="0.33" fill="#666"/>
<circle cx="105.52" cy="470.16" r="0.33" fill="#666"/>
<circle cx="102.69" cy="487.33" r="0.33" fill="#666"/>
<circle cx="89.37" cy="477.38" r="0.33" fill="#666"/>
<circle cx="101.33" cy="473.15" r="0.33" fill="#666"/>
<circle cx="107.07" cy="478.53" r="0.33" fill="#666"/>
<circle cx="91.69" cy="483.71" r="0.33" fill="#666"/>
<circle cx="107.95" cy="485.28" r="0.33" fill="#666"/>
<circle cx="113.40" cy="481.19" r="0.33" fill="#666"/>
<circle cx="103.27" cy="470.71" r="0.33" fill="#666"/>
<circle cx="107.86" cy="474.66" r="0.33" fill="#666"/>
<circle cx="98.66" cy="471.02" r="0.33" fill="#666"/>
<circle cx="94.01" cy="475.42" r="0.33" fill="#666"/>
<circle cx="109.59" cy="469.97" r="0.33" fill="#666"/>
<circle cx="91.04" cy="480.45" r="0.33" fill="#666"/>
<circle cx="136.00" cy="507.67" r="0.33" fill="#666"/>
<circle cx="123.60" cy="491.07" r="0.33" fill="#666"/>
<circle cx="131.10" cy="495.80" r="0.33" fill="#666"/>
<circle cx="123.46" cy="511.07" r="0.33" fill="#666"/>
<circle cx="135.05" cy="504.44" r="0.33" fill="#666"/>
<circle cx="130.52" cy="507.47" r="0.33" fill="#666"/>
<circle cx="136.35" cy="507.76" r="0.33" fill="#666"/>
<circle cx="132.08" cy="508.42" r="0.33" fill="#666"/>
<circle cx="122.49" cy="511.86" r="0.33" fill="#666"/>
<circle cx="134.28" cy="507.88" r="0.33" fill="#666"/>
<circle cx="120.95" cy="498.69" r="0.33" fill="#666"/>
<circle cx="132.53" cy="490.36" r="0.33" fill="#666"/>
<circle cx="127.97" cy="512.51" r="0.33" fill="#666"/>
<circle cx="123.66" cy="513.94" r="0.33" fill="#666"/>
<circle cx="132.37" cy="501.47" r="0.33" fill="#666"/>
<circle cx="130.94" cy="509.46" r="0.33" fill="#666"/>
<circle cx="129.66" cy="513.39" r="0.33" fill="#666"/>
<circle cx="125.09" cy="498.92" r="0.33" fill="#666"/>
<circle cx="134.82" cy="503.25" r="0.33" fill="#666"/>
<circle cx="124.39" cy="511.27" r="0.33" fill="#666"/>
<circle cx="136.16" cy="499.38" r="0.33" fill="#666"/>
<circle cx="121.96" cy="501.85" r="0.33" fill="#666"/>
<circle cx="128.06" cy="499.88" r="0.33" fill="#666"/>
<circle cx="135.42" cy="495.18" r="0.33" fill="#666"/>
<circle cx="134.67" cy="493.50" r="0.33" fill="#666"/>
<circle cx="124.57" cy="508.93" r="0.33" fill="#666"/>
<circle cx="134.70" cy="510.23" r="0.33" fill="#666"/>
<circle cx="131.16" cy="504.48" r="0.33" fill="#666"/>
<circle cx="129.93" cy="508.84" r="0.33" fill="#666"/>
<circle cx="127.89" cy="505.90" r="0.33" fill="#666"/>
<circle cx="132.50" cy="503.01" r="0.33" fill="#666"/>
<circle cx="133.36" cy="508.38" r="0.33" fill="#666"/>
<circle cx="137.31" cy="505.24" r="0.33" fill="#666"/>
<circle cx="126.38" cy="499.20" r="0.33" fill="#666"/>
<circle cx="128.92" cy="511.84" r="0.33" fill="#666"/>
<circle cx="112.93" cy="493.81" r="0.33" fill="#666"/>
<circle cx="130.77" cy="470.18" r="0.33" fill="#666"/>
<circle cx="103.05" cy="491.25" r="0.33" fill="#666"/>
<circle cx="124.03" cy="491.61" r="0.33" fill="#666"/>
<circle cx="111.78" cy="497.46" r="0.33" fill="#666"/>
<circle cx="122.20" cy="480.22" r="0.33" fill="#666"/>
<circle cx="139.23" cy="491.10" r="0.33" fill="#666"/>
<circle cx="109.71" cy="486.51" r="0.33" fill="#666"/>
<circle cx="114.51" cy="487.03" r="0.33" fill="#666"/>
<circle cx="96.58" cy="484.18" r="0.33" fill="#666"/>
<circle cx="129.99" cy="474.10" r="0.33" fill="#666"/>
<circle cx="117.07" cy="501.29" r="0.33" fill="#666"/>
<circle cx="127.63" cy="504.76" r="0.33" fill="#666"/>
<circle cx="98.99" cy="484.05" r="0.33" fill="#666"/>
<circle cx="113.01" cy="497.12" r="0.33" fill="#666"/>
<circle cx="126.23" cy="467.78" r="0.33" fill="#666"/>
<circle cx="129.87" cy="472.21" r="0.33" fill="#666"/>
<circle cx="125.88" cy="470.79" r="0.33" fill="#666"/>
<defs><radialGradient id="g10234791"><stop offset="0" stop-color="#fff"/><stop offset="0.14" stop-color="#eee"/><stop offset="0.32" stop-color="#404040"/><stop offset="0.8" stop-color="#404040"/><stop offset="1" stop-color="#888"/></radialGradient></defs>
<ellipse cx="102.30" cy="479.10" rx="11.90" ry="6.40" transform="rotate(-12 102.30 479.10)" fill="#fff" stroke="#222" stroke-width="0.6"/>
<ellipse cx="102.30" cy="479.10" rx="9.52" ry="5.12" transform="rotate(-12 102.30 479.10)" fill="#fff" stroke="#222" stroke-width="0.55"/>
<ellipse cx="102.30" cy="479.10" rx="8.09" ry="4.35" transform="rotate(-12 102.30 479.10)" fill="#aaa" stroke="#222" stroke-width="0.5"/>
<ellipse cx="102.30" cy="479.10" rx="7.14" ry="3.84" transform="rotate(-12 102.30 479.10)" fill="url(#g10234791)"/>
<defs><radialGradient id="g12905033"><stop offset="0" stop-color="#fff"/><stop offset="0.14" stop-color="#eee"/><stop offset="0.32" stop-color="#111111"/><stop offset="0.8" stop-color="#111111"/><stop offset="1" stop-color="#888"/></radialGradient></defs>
<ellipse cx="129.00" cy="503.30" rx="6.50" ry="10.10" transform="rotate(0 129.00 503.30)" fill="#fff" stroke="#222" stroke-width="0.6"/>
<ellipse cx="129.00" cy="503.30" rx="5.20" ry="8.08" transform="rotate(0 129.00 503.30)" fill="#fff" stroke="#222" stroke-width="0.55"/>
<ellipse cx="129.00" cy="503.30" rx="4.42" ry="6.87" transform="rotate(0 129.00 503.30)" fill="#aaa" stroke="#222" stroke-width="0.5"/>
<ellipse cx="129.00" cy="503.30" rx="3.90" ry="6.06" transform="rotate(0 129.00 503.30)" fill="url(#g12905033)"/>
<rect x="85.90" y="465.40" width="30.60" height="23.10" fill="none" stroke="#5c2d74" stroke-width="1.1"/>
<rect x="118.50" y="486.40" width="21.00" height="32.10" fill="none" stroke="#35568f" stroke-width="1.1"/>
<text x="84.80" y="461.50" font-size="9.2" textLength="41.8" lengthAdjust="spacingAndGlyphs" fill="#000" stroke="#000" stroke-width="0.18">competitor</text>
<text x="139.70" y="471.50" font-size="9.2" textLength="13.8" lengthAdjust="spacingAndGlyphs" fill="#000" stroke="#000" stroke-width="0.18">test</text>
<text x="132.80" y="482.60" font-size="9.4" textLength="16.9" lengthAdjust="spacingAndGlyphs" font-style="italic" fill="#000" stroke="#000" stroke-width="0.18">Nxf1</text>
<text x="150.50" y="478.80" font-size="6.2" textLength="10.0" lengthAdjust="spacingAndGlyphs" font-style="italic" fill="#000">+/+</text>
<rect x="78.70" y="555.80" width="86.20" height="85.20" fill="none" stroke="#000" stroke-width="1.15"/>
<line x1="74.80" y1="636.70" x2="78.70" y2="636.70" stroke="#000" stroke-width="0.9"/>
<line x1="74.80" y1="613.60" x2="78.70" y2="613.60" stroke="#000" stroke-width="0.9"/>
<line x1="74.80" y1="594.30" x2="78.70" y2="594.30" stroke="#000" stroke-width="0.9"/>
<line x1="74.80" y1="574.90" x2="78.70" y2="574.90" stroke="#000" stroke-width="0.9"/>
<line x1="76.70" y1="619.41" x2="78.70" y2="619.41" stroke="#000" stroke-width="0.65"/>
<line x1="76.70" y1="622.81" x2="78.70" y2="622.81" stroke="#000" stroke-width="0.65"/>
<line x1="76.70" y1="625.22" x2="78.70" y2="625.22" stroke="#000" stroke-width="0.65"/>
<line x1="76.70" y1="627.09" x2="78.70" y2="627.09" stroke="#000" stroke-width="0.65"/>
<line x1="76.70" y1="628.62" x2="78.70" y2="628.62" stroke="#000" stroke-width="0.65"/>
<line x1="76.70" y1="629.91" x2="78.70" y2="629.91" stroke="#000" stroke-width="0.65"/>
<line x1="76.70" y1="631.03" x2="78.70" y2="631.03" stroke="#000" stroke-width="0.65"/>
<line x1="76.70" y1="632.02" x2="78.70" y2="632.02" stroke="#000" stroke-width="0.65"/>
<line x1="76.70" y1="600.11" x2="78.70" y2="600.11" stroke="#000" stroke-width="0.65"/>
<line x1="76.70" y1="603.51" x2="78.70" y2="603.51" stroke="#000" stroke-width="0.65"/>
<line x1="76.70" y1="605.92" x2="78.70" y2="605.92" stroke="#000" stroke-width="0.65"/>
<line x1="76.70" y1="607.79" x2="78.70" y2="607.79" stroke="#000" stroke-width="0.65"/>
<line x1="76.70" y1="609.32" x2="78.70" y2="609.32" stroke="#000" stroke-width="0.65"/>
<line x1="76.70" y1="610.61" x2="78.70" y2="610.61" stroke="#000" stroke-width="0.65"/>
<line x1="76.70" y1="611.73" x2="78.70" y2="611.73" stroke="#000" stroke-width="0.65"/>
<line x1="76.70" y1="612.72" x2="78.70" y2="612.72" stroke="#000" stroke-width="0.65"/>
<line x1="76.70" y1="580.71" x2="78.70" y2="580.71" stroke="#000" stroke-width="0.65"/>
<line x1="76.70" y1="584.11" x2="78.70" y2="584.11" stroke="#000" stroke-width="0.65"/>
<line x1="76.70" y1="586.52" x2="78.70" y2="586.52" stroke="#000" stroke-width="0.65"/>
<line x1="76.70" y1="588.39" x2="78.70" y2="588.39" stroke="#000" stroke-width="0.65"/>
<line x1="76.70" y1="589.92" x2="78.70" y2="589.92" stroke="#000" stroke-width="0.65"/>
<line x1="76.70" y1="591.21" x2="78.70" y2="591.21" stroke="#000" stroke-width="0.65"/>
<line x1="76.70" y1="592.33" x2="78.70" y2="592.33" stroke="#000" stroke-width="0.65"/>
<line x1="76.70" y1="593.32" x2="78.70" y2="593.32" stroke="#000" stroke-width="0.65"/>
<line x1="76.70" y1="631.20" x2="78.70" y2="631.20" stroke="#000" stroke-width="0.65"/>
<line x1="76.70" y1="625.70" x2="78.70" y2="625.70" stroke="#000" stroke-width="0.65"/>
<line x1="76.70" y1="620.20" x2="78.70" y2="620.20" stroke="#000" stroke-width="0.65"/>
<text x="70.50" y="639.60" font-size="8.4" text-anchor="end" fill="#000" stroke="#000" stroke-width="0.2">0</text>
<text x="57.20" y="616.50" font-size="8.4" textLength="8.6" lengthAdjust="spacingAndGlyphs" fill="#000" stroke="#000" stroke-width="0.2">10</text>
<text x="66.20" y="613.20" font-size="6.0" textLength="3.6" lengthAdjust="spacingAndGlyphs" fill="#000" stroke="#000" stroke-width="0.1">1</text>
<text x="57.20" y="597.20" font-size="8.4" textLength="8.6" lengthAdjust="spacingAndGlyphs" fill="#000" stroke="#000" stroke-width="0.2">10</text>
<text x="66.20" y="593.90" font-size="6.0" textLength="3.6" lengthAdjust="spacingAndGlyphs" fill="#000" stroke="#000" stroke-width="0.1">2</text>
<text x="57.20" y="577.80" font-size="8.4" textLength="8.6" lengthAdjust="spacingAndGlyphs" fill="#000" stroke="#000" stroke-width="0.2">10</text>
<text x="66.20" y="574.50" font-size="6.0" textLength="3.6" lengthAdjust="spacingAndGlyphs" fill="#000" stroke="#000" stroke-width="0.1">3</text>
<line x1="83.70" y1="641.00" x2="83.70" y2="644.90" stroke="#000" stroke-width="0.9"/>
<line x1="107.00" y1="641.00" x2="107.00" y2="644.90" stroke="#000" stroke-width="0.9"/>
<line x1="126.60" y1="641.00" x2="126.60" y2="644.90" stroke="#000" stroke-width="0.9"/>
<line x1="146.00" y1="641.00" x2="146.00" y2="644.90" stroke="#000" stroke-width="0.9"/>
<line x1="112.90" y1="641.00" x2="112.90" y2="643.00" stroke="#000" stroke-width="0.65"/>
<line x1="116.35" y1="641.00" x2="116.35" y2="643.00" stroke="#000" stroke-width="0.65"/>
<line x1="118.80" y1="641.00" x2="118.80" y2="643.00" stroke="#000" stroke-width="0.65"/>
<line x1="120.70" y1="641.00" x2="120.70" y2="643.00" stroke="#000" stroke-width="0.65"/>
<line x1="122.25" y1="641.00" x2="122.25" y2="643.00" stroke="#000" stroke-width="0.65"/>
<line x1="123.56" y1="641.00" x2="123.56" y2="643.00" stroke="#000" stroke-width="0.65"/>
<line x1="124.70" y1="641.00" x2="124.70" y2="643.00" stroke="#000" stroke-width="0.65"/>
<line x1="125.70" y1="641.00" x2="125.70" y2="643.00" stroke="#000" stroke-width="0.65"/>
<line x1="132.50" y1="641.00" x2="132.50" y2="643.00" stroke="#000" stroke-width="0.65"/>
<line x1="135.95" y1="641.00" x2="135.95" y2="643.00" stroke="#000" stroke-width="0.65"/>
<line x1="138.40" y1="641.00" x2="138.40" y2="643.00" stroke="#000" stroke-width="0.65"/>
<line x1="140.30" y1="641.00" x2="140.30" y2="643.00" stroke="#000" stroke-width="0.65"/>
<line x1="141.85" y1="641.00" x2="141.85" y2="643.00" stroke="#000" stroke-width="0.65"/>
<line x1="143.16" y1="641.00" x2="143.16" y2="643.00" stroke="#000" stroke-width="0.65"/>
<line x1="144.30" y1="641.00" x2="144.30" y2="643.00" stroke="#000" stroke-width="0.65"/>
<line x1="145.30" y1="641.00" x2="145.30" y2="643.00" stroke="#000" stroke-width="0.65"/>
<line x1="151.90" y1="641.00" x2="151.90" y2="643.00" stroke="#000" stroke-width="0.65"/>
<line x1="155.35" y1="641.00" x2="155.35" y2="643.00" stroke="#000" stroke-width="0.65"/>
<line x1="157.80" y1="641.00" x2="157.80" y2="643.00" stroke="#000" stroke-width="0.65"/>
<line x1="159.70" y1="641.00" x2="159.70" y2="643.00" stroke="#000" stroke-width="0.65"/>
<line x1="161.25" y1="641.00" x2="161.25" y2="643.00" stroke="#000" stroke-width="0.65"/>
<line x1="162.56" y1="641.00" x2="162.56" y2="643.00" stroke="#000" stroke-width="0.65"/>
<line x1="163.70" y1="641.00" x2="163.70" y2="643.00" stroke="#000" stroke-width="0.65"/>
<line x1="88.70" y1="641.00" x2="88.70" y2="643.00" stroke="#000" stroke-width="0.65"/>
<line x1="94.20" y1="641.00" x2="94.20" y2="643.00" stroke="#000" stroke-width="0.65"/>
<line x1="99.70" y1="641.00" x2="99.70" y2="643.00" stroke="#000" stroke-width="0.65"/>
<text x="83.80" y="657.60" font-size="8.4" text-anchor="middle" fill="#000" stroke="#000" stroke-width="0.2">0</text>
<text x="100.90" y="657.60" font-size="8.4" textLength="8.4" lengthAdjust="spacingAndGlyphs" fill="#000" stroke="#000" stroke-width="0.2">10</text>
<text x="109.80" y="654.20" font-size="6.0" textLength="3.6" lengthAdjust="spacingAndGlyphs" fill="#000" stroke="#000" stroke-width="0.1">1</text>
<text x="120.50" y="657.60" font-size="8.4" textLength="8.4" lengthAdjust="spacingAndGlyphs" fill="#000" stroke="#000" stroke-width="0.2">10</text>
<text x="129.40" y="654.20" font-size="6.0" textLength="3.6" lengthAdjust="spacingAndGlyphs" fill="#000" stroke="#000" stroke-width="0.1">2</text>
<text x="139.90" y="657.60" font-size="8.4" textLength="8.4" lengthAdjust="spacingAndGlyphs" fill="#000" stroke="#000" stroke-width="0.2">10</text>
<text x="148.80" y="654.20" font-size="6.0" textLength="3.6" lengthAdjust="spacingAndGlyphs" fill="#000" stroke="#000" stroke-width="0.1">3</text>
<circle cx="100.37" cy="598.83" r="0.33" fill="#666"/>
<circle cx="97.23" cy="592.48" r="0.33" fill="#666"/>
<circle cx="106.61" cy="592.02" r="0.33" fill="#666"/>
<circle cx="98.08" cy="600.14" r="0.33" fill="#666"/>
<circle cx="108.46" cy="589.02" r="0.33" fill="#666"/>
<circle cx="112.56" cy="586.79" r="0.33" fill="#666"/>
<circle cx="107.50" cy="589.15" r="0.33" fill="#666"/>
<circle cx="100.12" cy="596.15" r="0.33" fill="#666"/>
<circle cx="101.03" cy="595.70" r="0.33" fill="#666"/>
<circle cx="88.68" cy="583.66" r="0.33" fill="#666"/>
<circle cx="104.39" cy="584.58" r="0.33" fill="#666"/>
<circle cx="91.12" cy="582.94" r="0.33" fill="#666"/>
<circle cx="109.30" cy="595.54" r="0.33" fill="#666"/>
<circle cx="109.99" cy="585.78" r="0.33" fill="#666"/>
<circle cx="98.81" cy="583.39" r="0.33" fill="#666"/>
<circle cx="104.59" cy="599.80" r="0.33" fill="#666"/>
<circle cx="92.15" cy="599.55" r="0.33" fill="#666"/>
<circle cx="108.09" cy="589.77" r="0.33" fill="#666"/>
<circle cx="86.92" cy="597.22" r="0.33" fill="#666"/>
<circle cx="97.82" cy="586.52" r="0.33" fill="#666"/>
<circle cx="102.87" cy="594.06" r="0.33" fill="#666"/>
<circle cx="109.93" cy="585.44" r="0.33" fill="#666"/>
<circle cx="107.08" cy="598.95" r="0.33" fill="#666"/>
<circle cx="110.87" cy="589.90" r="0.33" fill="#666"/>
<circle cx="92.25" cy="597.58" r="0.33" fill="#666"/>
<circle cx="100.02" cy="591.96" r="0.33" fill="#666"/>
<circle cx="110.69" cy="589.39" r="0.33" fill="#666"/>
<circle cx="84.51" cy="589.23" r="0.33" fill="#666"/>
<circle cx="85.99" cy="595.15" r="0.33" fill="#666"/>
<circle cx="101.97" cy="586.51" r="0.33" fill="#666"/>
<circle cx="98.71" cy="596.95" r="0.33" fill="#666"/>
<circle cx="99.48" cy="599.41" r="0.33" fill="#666"/>
<circle cx="98.23" cy="598.11" r="0.33" fill="#666"/>
<circle cx="108.52" cy="598.70" r="0.33" fill="#666"/>
<circle cx="92.64" cy="596.92" r="0.33" fill="#666"/>
<circle cx="119.59" cy="611.39" r="0.33" fill="#666"/>
<circle cx="119.43" cy="626.33" r="0.33" fill="#666"/>
<circle cx="120.44" cy="618.88" r="0.33" fill="#666"/>
<circle cx="125.78" cy="618.68" r="0.33" fill="#666"/>
<circle cx="123.42" cy="621.52" r="0.33" fill="#666"/>
<circle cx="135.04" cy="619.35" r="0.33" fill="#666"/>
<circle cx="129.90" cy="628.73" r="0.33" fill="#666"/>
<circle cx="125.96" cy="607.21" r="0.33" fill="#666"/>
<circle cx="124.02" cy="629.23" r="0.33" fill="#666"/>
<circle cx="119.51" cy="614.16" r="0.33" fill="#666"/>
<circle cx="132.29" cy="626.41" r="0.33" fill="#666"/>
<circle cx="127.04" cy="627.42" r="0.33" fill="#666"/>
<circle cx="127.89" cy="607.71" r="0.33" fill="#666"/>
<circle cx="119.74" cy="613.72" r="0.33" fill="#666"/>
<circle cx="132.11" cy="613.43" r="0.33" fill="#666"/>
<circle cx="122.13" cy="611.61" r="0.33" fill="#666"/>
<circle cx="119.53" cy="617.98" r="0.33" fill="#666"/>
<circle cx="120.72" cy="622.45" r="0.33" fill="#666"/>
<circle cx="118.35" cy="621.14" r="0.33" fill="#666"/>
<circle cx="124.36" cy="604.78" r="0.33" fill="#666"/>
<circle cx="131.29" cy="616.10" r="0.33" fill="#666"/>
<circle cx="118.86" cy="613.32" r="0.33" fill="#666"/>
<circle cx="128.79" cy="614.00" r="0.33" fill="#666"/>
<circle cx="131.32" cy="626.36" r="0.33" fill="#666"/>
<circle cx="130.96" cy="622.46" r="0.33" fill="#666"/>
<circle cx="133.60" cy="624.81" r="0.33" fill="#666"/>
<circle cx="128.80" cy="604.19" r="0.33" fill="#666"/>
<circle cx="131.30" cy="630.17" r="0.33" fill="#666"/>
<circle cx="125.18" cy="613.89" r="0.33" fill="#666"/>
<circle cx="133.56" cy="608.43" r="0.33" fill="#666"/>
<circle cx="128.67" cy="634.33" r="0.33" fill="#666"/>
<circle cx="121.96" cy="625.66" r="0.33" fill="#666"/>
<circle cx="135.19" cy="618.07" r="0.33" fill="#666"/>
<circle cx="130.12" cy="627.93" r="0.33" fill="#666"/>
<circle cx="121.78" cy="618.09" r="0.33" fill="#666"/>
<circle cx="128.70" cy="627.51" r="0.33" fill="#666"/>
<circle cx="126.78" cy="616.80" r="0.33" fill="#666"/>
<circle cx="121.37" cy="615.46" r="0.33" fill="#666"/>
<circle cx="132.15" cy="620.04" r="0.33" fill="#666"/>
<circle cx="122.41" cy="610.96" r="0.33" fill="#666"/>
<circle cx="138.08" cy="611.58" r="0.33" fill="#666"/>
<circle cx="123.18" cy="581.94" r="0.33" fill="#666"/>
<circle cx="126.97" cy="609.94" r="0.33" fill="#666"/>
<circle cx="136.82" cy="607.78" r="0.33" fill="#666"/>
<circle cx="116.99" cy="610.85" r="0.33" fill="#666"/>
<circle cx="99.45" cy="612.86" r="0.33" fill="#666"/>
<circle cx="122.70" cy="592.85" r="0.33" fill="#666"/>
<circle cx="130.47" cy="620.01" r="0.33" fill="#666"/>
<circle cx="101.37" cy="595.10" r="0.33" fill="#666"/>
<circle cx="122.46" cy="605.81" r="0.33" fill="#666"/>
<circle cx="112.57" cy="589.72" r="0.33" fill="#666"/>
<circle cx="137.14" cy="612.37" r="0.33" fill="#666"/>
<circle cx="104.92" cy="588.27" r="0.33" fill="#666"/>
<circle cx="135.60" cy="613.22" r="0.33" fill="#666"/>
<circle cx="136.67" cy="611.31" r="0.33" fill="#666"/>
<circle cx="105.72" cy="606.67" r="0.33" fill="#666"/>
<circle cx="97.99" cy="596.07" r="0.33" fill="#666"/>
<circle cx="117.11" cy="610.86" r="0.33" fill="#666"/>
<defs><radialGradient id="g9885912"><stop offset="0" stop-color="#fff"/><stop offset="0.14" stop-color="#eee"/><stop offset="0.32" stop-color="#404040"/><stop offset="0.8" stop-color="#404040"/><stop offset="1" stop-color="#888"/></radialGradient></defs>
<ellipse cx="98.80" cy="591.20" rx="13.10" ry="5.90" transform="rotate(-8 98.80 591.20)" fill="#fff" stroke="#222" stroke-width="0.6"/>
<ellipse cx="98.80" cy="591.20" rx="10.48" ry="4.72" transform="rotate(-8 98.80 591.20)" fill="#fff" stroke="#222" stroke-width="0.55"/>
<ellipse cx="98.80" cy="591.20" rx="8.91" ry="4.01" transform="rotate(-8 98.80 591.20)" fill="#aaa" stroke="#222" stroke-width="0.5"/>
<ellipse cx="98.80" cy="591.20" rx="7.86" ry="3.54" transform="rotate(-8 98.80 591.20)" fill="url(#g9885912)"/>
<defs><radialGradient id="g12696214"><stop offset="0" stop-color="#fff"/><stop offset="0.14" stop-color="#eee"/><stop offset="0.32" stop-color="#505050"/><stop offset="0.8" stop-color="#505050"/><stop offset="1" stop-color="#888"/></radialGradient></defs>
<ellipse cx="126.90" cy="621.40" rx="5.90" ry="10.80" transform="rotate(0 126.90 621.40)" fill="#fff" stroke="#222" stroke-width="0.6"/>
<ellipse cx="126.90" cy="621.40" rx="4.72" ry="8.64" transform="rotate(0 126.90 621.40)" fill="#fff" stroke="#222" stroke-width="0.55"/>
<ellipse cx="126.90" cy="621.40" rx="4.01" ry="7.34" transform="rotate(0 126.90 621.40)" fill="#aaa" stroke="#222" stroke-width="0.5"/>
<ellipse cx="126.90" cy="621.40" rx="3.54" ry="6.48" transform="rotate(0 126.90 621.40)" fill="url(#g12696214)"/>
<rect x="84.90" y="579.70" width="30.20" height="23.70" fill="none" stroke="#5c2d74" stroke-width="1.1"/>
<rect x="117.60" y="600.60" width="21.30" height="32.60" fill="none" stroke="#b01735" stroke-width="1.1"/>
<text x="83.60" y="576.10" font-size="9.2" textLength="42.2" lengthAdjust="spacingAndGlyphs" fill="#000" stroke="#000" stroke-width="0.18">competitor</text>
<text x="133.90" y="586.20" font-size="9.2" textLength="13.9" lengthAdjust="spacingAndGlyphs" fill="#000" stroke="#000" stroke-width="0.18">test</text>
<text x="120.00" y="596.40" font-size="9.4" textLength="16.4" lengthAdjust="spacingAndGlyphs" font-style="italic" fill="#000" stroke="#000" stroke-width="0.18">Nxf1</text>
<text x="137.20" y="592.60" font-size="6.2" textLength="26.0" lengthAdjust="spacingAndGlyphs" font-style="italic" fill="#000">C587R/+</text>
<path d="M44.6 484 V672.5 H122" fill="none" stroke="#000" stroke-width="1.3"/>
<path d="M44.6 476.5 L48.1 485 L44.6 483.2 L41.1 485 Z" fill="#000"/>
<path d="M129.2 672.5 L120.8 669.2 L122.6 672.5 L120.8 675.8 Z" fill="#000"/>
<text transform="translate(48.6,456.9) rotate(-90)" font-size="14" text-anchor="middle" textLength="28.5" lengthAdjust="spacingAndGlyphs" fill="#000" stroke="#000" stroke-width="0.35">CD45.1</text>
<text x="134.30" y="676.80" font-size="14" textLength="29.2" lengthAdjust="spacingAndGlyphs" fill="#000" stroke="#000" stroke-width="0.35">CD45.2</text>
<text x="191.00" y="418.80" font-size="17.5" font-weight="bold" fill="#000">D</text>
<line x1="290.10" y1="426.40" x2="290.10" y2="504.65" stroke="#000" stroke-width="1.5"/>
<line x1="289.35" y1="503.90" x2="406.20" y2="503.90" stroke="#000" stroke-width="1.5"/>
<line x1="285.70" y1="439.30" x2="290.10" y2="439.30" stroke="#000" stroke-width="1.5"/>
<text x="245.95" y="442.70" font-size="11.3" textLength="34.75" lengthAdjust="spacingAndGlyphs" fill="#000">16384</text>
<line x1="285.70" y1="465.30" x2="290.10" y2="465.30" stroke="#000" stroke-width="1.5"/>
<text x="252.90" y="468.70" font-size="11.3" textLength="27.8" lengthAdjust="spacingAndGlyphs" fill="#000">4096</text>
<line x1="285.70" y1="491.20" x2="290.10" y2="491.20" stroke="#000" stroke-width="1.5"/>
<text x="252.90" y="494.60" font-size="11.3" textLength="27.8" lengthAdjust="spacingAndGlyphs" fill="#000">1024</text>
<line x1="301.20" y1="503.90" x2="301.20" y2="508.10" stroke="#000" stroke-width="1.5"/>
<text x="297.86" y="522.90" font-size="11.3" textLength="6.68" lengthAdjust="spacingAndGlyphs" fill="#000">1</text>
<line x1="324.50" y1="503.90" x2="324.50" y2="508.10" stroke="#000" stroke-width="1.5"/>
<text x="321.16" y="522.90" font-size="11.3" textLength="6.68" lengthAdjust="spacingAndGlyphs" fill="#000">4</text>
<line x1="347.80" y1="503.90" x2="347.80" y2="508.10" stroke="#000" stroke-width="1.5"/>
<text x="341.12" y="522.90" font-size="11.3" textLength="13.36" lengthAdjust="spacingAndGlyphs" fill="#000">16</text>
<line x1="371.20" y1="503.90" x2="371.20" y2="508.10" stroke="#000" stroke-width="1.5"/>
<text x="364.52" y="522.90" font-size="11.3" textLength="13.36" lengthAdjust="spacingAndGlyphs" fill="#000">64</text>
<line x1="394.60" y1="503.90" x2="394.60" y2="508.10" stroke="#000" stroke-width="1.5"/>
<text x="384.58" y="522.90" font-size="11.3" textLength="20.04" lengthAdjust="spacingAndGlyphs" fill="#000">256</text>
<text transform="translate(239.10,465.30) rotate(-90) scale(0.5,1)" x="1.17" y="0" font-size="14.4" text-anchor="middle" letter-spacing="2.34" fill="#000" stroke="#000" stroke-width="0.5">Cell number</text>
<polyline points="295.10,435.90 306.80,435.90 318.40,437.50 330.10,440.90 341.50,441.80 353.20,442.80 364.70,445.70 376.70,449.50 388.50,457.20 399.60,466.00" fill="none" stroke="#2b4a8c" stroke-width="1.35" stroke-linejoin="round"/>
<circle cx="295.10" cy="435.90" r="2.0" fill="#1c3a78"/>
<circle cx="306.80" cy="435.90" r="2.0" fill="#1c3a78"/>
<circle cx="318.40" cy="437.50" r="2.0" fill="#1c3a78"/>
<circle cx="330.10" cy="440.90" r="2.0" fill="#1c3a78"/>
<circle cx="341.50" cy="441.80" r="2.0" fill="#1c3a78"/>
<circle cx="353.20" cy="442.80" r="2.0" fill="#1c3a78"/>
<circle cx="364.70" cy="445.70" r="2.0" fill="#1c3a78"/>
<circle cx="376.70" cy="449.50" r="2.0" fill="#1c3a78"/>
<circle cx="388.50" cy="457.20" r="2.0" fill="#1c3a78"/>
<circle cx="399.60" cy="466.00" r="2.0" fill="#1c3a78"/>
<polyline points="295.10,435.10 306.80,435.10 318.40,436.80 330.10,435.50 341.50,437.80 353.20,440.90 364.70,443.75 376.70,447.60 388.50,455.20 399.60,460.30" fill="none" stroke="#5a2a6e" stroke-width="1.35" stroke-linejoin="round"/>
<path d="M295.10 432.60V437.60M293.30 432.60H296.90M293.30 437.60H296.90" stroke="#5a2a6e" stroke-width="1.0" fill="none"/>
<path d="M306.80 433.10V437.10M305.00 433.10H308.60M305.00 437.10H308.60" stroke="#5a2a6e" stroke-width="1.0" fill="none"/>
<path d="M399.60 458.30V462.30M397.80 458.30H401.40M397.80 462.30H401.40" stroke="#5a2a6e" stroke-width="1.0" fill="none"/>
<path d="M295.10 432.50L297.55 436.85L292.65 436.85Z" fill="#fff" stroke="#5a2a6e" stroke-width="1.25" stroke-linejoin="round"/>
<path d="M306.80 432.50L309.25 436.85L304.35 436.85Z" fill="#fff" stroke="#5a2a6e" stroke-width="1.25" stroke-linejoin="round"/>
<path d="M318.40 434.20L320.85 438.55L315.95 438.55Z" fill="#fff" stroke="#5a2a6e" stroke-width="1.25" stroke-linejoin="round"/>
<path d="M330.10 432.90L332.55 437.25L327.65 437.25Z" fill="#fff" stroke="#5a2a6e" stroke-width="1.25" stroke-linejoin="round"/>
<path d="M341.50 435.20L343.95 439.55L339.05 439.55Z" fill="#fff" stroke="#5a2a6e" stroke-width="1.25" stroke-linejoin="round"/>
<path d="M353.20 438.30L355.65 442.65L350.75 442.65Z" fill="#fff" stroke="#5a2a6e" stroke-width="1.25" stroke-linejoin="round"/>
<path d="M364.70 441.15L367.15 445.50L362.25 445.50Z" fill="#fff" stroke="#5a2a6e" stroke-width="1.25" stroke-linejoin="round"/>
<path d="M376.70 445.00L379.15 449.35L374.25 449.35Z" fill="#fff" stroke="#5a2a6e" stroke-width="1.25" stroke-linejoin="round"/>
<path d="M388.50 452.60L390.95 456.95L386.05 456.95Z" fill="#fff" stroke="#5a2a6e" stroke-width="1.25" stroke-linejoin="round"/>
<path d="M399.60 457.70L402.05 462.05L397.15 462.05Z" fill="#fff" stroke="#5a2a6e" stroke-width="1.25" stroke-linejoin="round"/>
<line x1="410.30" y1="457.50" x2="431.60" y2="457.50" stroke="#5a2a6e" stroke-width="1.2"/>
<path d="M421.00 455.00L423.45 459.35L418.55 459.35Z" fill="#fff" stroke="#5a2a6e" stroke-width="1.25" stroke-linejoin="round"/>
<text x="436.50" y="461.20" font-size="10.6" textLength="49.0" lengthAdjust="spacingAndGlyphs" fill="#000">competitor</text>
<line x1="410.30" y1="472.70" x2="431.60" y2="472.70" stroke="#2b4a8c" stroke-width="1.2"/>
<circle cx="421.00" cy="472.70" r="2.0" fill="#1c3a78"/>
<text x="436.60" y="476.20" font-size="10.6" textLength="16.0" lengthAdjust="spacingAndGlyphs" fill="#000">test</text>
<text x="456.60" y="476.20" font-size="11.0" textLength="20.2" lengthAdjust="spacingAndGlyphs" font-style="italic" fill="#000">Nxf1</text>
<text x="478.00" y="472.00" font-size="7.6" textLength="12.6" lengthAdjust="spacingAndGlyphs" font-style="italic" fill="#000">+/+</text>
<line x1="290.10" y1="538.70" x2="290.10" y2="616.85" stroke="#000" stroke-width="1.5"/>
<line x1="289.35" y1="616.10" x2="404.30" y2="616.10" stroke="#000" stroke-width="1.5"/>
<line x1="285.70" y1="551.70" x2="290.10" y2="551.70" stroke="#000" stroke-width="1.5"/>
<text x="245.95" y="555.10" font-size="11.3" textLength="34.75" lengthAdjust="spacingAndGlyphs" fill="#000">16384</text>
<line x1="285.70" y1="577.40" x2="290.10" y2="577.40" stroke="#000" stroke-width="1.5"/>
<text x="252.90" y="580.80" font-size="11.3" textLength="27.8" lengthAdjust="spacingAndGlyphs" fill="#000">4096</text>
<line x1="285.70" y1="603.60" x2="290.10" y2="603.60" stroke="#000" stroke-width="1.5"/>
<text x="252.90" y="607.00" font-size="11.3" textLength="27.8" lengthAdjust="spacingAndGlyphs" fill="#000">1024</text>
<line x1="301.25" y1="616.10" x2="301.25" y2="620.30" stroke="#000" stroke-width="1.5"/>
<text x="297.91" y="634.90" font-size="11.3" textLength="6.68" lengthAdjust="spacingAndGlyphs" fill="#000">1</text>
<line x1="325.00" y1="616.10" x2="325.00" y2="620.30" stroke="#000" stroke-width="1.5"/>
<text x="321.66" y="634.90" font-size="11.3" textLength="6.68" lengthAdjust="spacingAndGlyphs" fill="#000">4</text>
<line x1="348.25" y1="616.10" x2="348.25" y2="620.30" stroke="#000" stroke-width="1.5"/>
<text x="341.57" y="634.90" font-size="11.3" textLength="13.36" lengthAdjust="spacingAndGlyphs" fill="#000">16</text>
<line x1="371.75" y1="616.10" x2="371.75" y2="620.30" stroke="#000" stroke-width="1.5"/>
<text x="365.07" y="634.90" font-size="11.3" textLength="13.36" lengthAdjust="spacingAndGlyphs" fill="#000">64</text>
<line x1="395.00" y1="616.10" x2="395.00" y2="620.30" stroke="#000" stroke-width="1.5"/>
<text x="384.98" y="634.90" font-size="11.3" textLength="20.04" lengthAdjust="spacingAndGlyphs" fill="#000">256</text>
<text transform="translate(239.00,577.60) rotate(-90) scale(0.5,1)" x="1.17" y="0" font-size="14.4" text-anchor="middle" letter-spacing="2.34" fill="#000" stroke="#000" stroke-width="0.5">Cell number</text>
<text x="325.70" y="653.20" font-size="13.4" textLength="25.20" lengthAdjust="spacingAndGlyphs" fill="#000" stroke="#000" stroke-width="0.45">[CHX]</text>
<text x="355.00" y="653.20" font-size="13.4" textLength="15.60" lengthAdjust="spacingAndGlyphs" fill="#000" stroke="#000" stroke-width="0.45">&#181;M</text>
<polyline points="295.50,549.80 307.00,551.30 318.60,554.40 330.10,558.50 341.70,564.80 353.40,571.60 365.30,576.30 377.00,584.40 388.80,602.60 400.30,610.70" fill="none" stroke="#b3103a" stroke-width="1.35" stroke-linejoin="round"/>
<path d="M353.40 570.10V573.10M351.60 570.10H355.20M351.60 573.10H355.20" stroke="#a8002c" stroke-width="1.0" fill="none"/>
<path d="M400.30 608.70V612.70M398.50 608.70H402.10M398.50 612.70H402.10" stroke="#a8002c" stroke-width="1.0" fill="none"/>
<path d="M295.50 547.20L297.95 551.55L293.05 551.55Z" fill="#a8002c"/>
<path d="M307.00 548.70L309.45 553.05L304.55 553.05Z" fill="#a8002c"/>
<path d="M318.60 551.80L321.05 556.15L316.15 556.15Z" fill="#a8002c"/>
<path d="M330.10 555.90L332.55 560.25L327.65 560.25Z" fill="#a8002c"/>
<path d="M341.70 562.20L344.15 566.55L339.25 566.55Z" fill="#a8002c"/>
<path d="M353.40 569.00L355.85 573.35L350.95 573.35Z" fill="#a8002c"/>
<path d="M365.30 573.70L367.75 578.05L362.85 578.05Z" fill="#a8002c"/>
<path d="M377.00 581.80L379.45 586.15L374.55 586.15Z" fill="#a8002c"/>
<path d="M388.80 600.00L391.25 604.35L386.35 604.35Z" fill="#a8002c"/>
<path d="M400.30 608.10L402.75 612.45L397.85 612.45Z" fill="#a8002c"/>
<polyline points="295.50,547.20 307.00,548.70 318.60,549.20 330.10,550.40 341.70,552.50 353.40,554.10 365.30,558.40 377.00,560.20 388.80,566.20 400.30,575.70" fill="none" stroke="#5a2a6e" stroke-width="1.35" stroke-linejoin="round"/>
<path d="M388.80 562.20V570.20M387.00 562.20H390.60M387.00 570.20H390.60" stroke="#5a2a6e" stroke-width="1.0" fill="none"/>
<path d="M295.50 544.60L297.95 548.95L293.05 548.95Z" fill="#fff" stroke="#5a2a6e" stroke-width="1.25" stroke-linejoin="round"/>
<path d="M307.00 546.10L309.45 550.45L304.55 550.45Z" fill="#fff" stroke="#5a2a6e" stroke-width="1.25" stroke-linejoin="round"/>
<path d="M318.60 546.60L321.05 550.95L316.15 550.95Z" fill="#fff" stroke="#5a2a6e" stroke-width="1.25" stroke-linejoin="round"/>
<path d="M330.10 547.80L332.55 552.15L327.65 552.15Z" fill="#fff" stroke="#5a2a6e" stroke-width="1.25" stroke-linejoin="round"/>
<path d="M341.70 549.90L344.15 554.25L339.25 554.25Z" fill="#fff" stroke="#5a2a6e" stroke-width="1.25" stroke-linejoin="round"/>
<path d="M353.40 551.50L355.85 555.85L350.95 555.85Z" fill="#fff" stroke="#5a2a6e" stroke-width="1.25" stroke-linejoin="round"/>
<path d="M365.30 555.80L367.75 560.15L362.85 560.15Z" fill="#fff" stroke="#5a2a6e" stroke-width="1.25" stroke-linejoin="round"/>
<path d="M377.00 557.60L379.45 561.95L374.55 561.95Z" fill="#fff" stroke="#5a2a6e" stroke-width="1.25" stroke-linejoin="round"/>
<path d="M388.80 563.60L391.25 567.95L386.35 567.95Z" fill="#fff" stroke="#5a2a6e" stroke-width="1.25" stroke-linejoin="round"/>
<path d="M400.30 573.10L402.75 577.45L397.85 577.45Z" fill="#fff" stroke="#5a2a6e" stroke-width="1.25" stroke-linejoin="round"/>
<line x1="410.40" y1="570.40" x2="431.20" y2="570.40" stroke="#5a2a6e" stroke-width="1.2"/>
<path d="M420.80 567.90L423.25 572.25L418.35 572.25Z" fill="#fff" stroke="#5a2a6e" stroke-width="1.25" stroke-linejoin="round"/>
<text x="435.80" y="573.60" font-size="10.6" textLength="49.0" lengthAdjust="spacingAndGlyphs" fill="#000">competitor</text>
<line x1="410.40" y1="584.70" x2="431.20" y2="584.70" stroke="#b3103a" stroke-width="1.2"/>
<path d="M420.80 582.30L423.25 586.65L418.35 586.65Z" fill="#a8002c"/>
<text x="436.50" y="588.30" font-size="10.6" textLength="16.0" lengthAdjust="spacingAndGlyphs" fill="#000">test</text>
<text x="456.50" y="588.30" font-size="11.0" textLength="20.6" lengthAdjust="spacingAndGlyphs" font-style="italic" fill="#000">Nxf1</text>
<text x="478.50" y="583.40" font-size="7.6" textLength="32.3" lengthAdjust="spacingAndGlyphs" font-style="italic" fill="#000">C587R/+</text>
<text x="9.80" y="717.20" font-size="17.5" font-weight="bold" fill="#000">E</text>
<line x1="89.00" y1="727.60" x2="89.00" y2="809.95" stroke="#000" stroke-width="1.5"/>
<line x1="88.25" y1="809.20" x2="205.40" y2="809.20" stroke="#000" stroke-width="1.5"/>
<line x1="84.60" y1="731.50" x2="89.00" y2="731.50" stroke="#000" stroke-width="1.5"/>
<text x="46.15" y="734.90" font-size="11.3" textLength="34.75" lengthAdjust="spacingAndGlyphs" fill="#000">16384</text>
<line x1="84.60" y1="757.50" x2="89.00" y2="757.50" stroke="#000" stroke-width="1.5"/>
<text x="53.10" y="760.90" font-size="11.3" textLength="27.8" lengthAdjust="spacingAndGlyphs" fill="#000">4096</text>
<line x1="84.60" y1="783.30" x2="89.00" y2="783.30" stroke="#000" stroke-width="1.5"/>
<text x="53.10" y="786.70" font-size="11.3" textLength="27.8" lengthAdjust="spacingAndGlyphs" fill="#000">1024</text>
<line x1="84.60" y1="809.20" x2="89.00" y2="809.20" stroke="#000" stroke-width="1.5"/>
<text x="60.05" y="812.60" font-size="11.3" textLength="20.85" lengthAdjust="spacingAndGlyphs" fill="#000">256</text>
<line x1="100.50" y1="809.20" x2="100.50" y2="813.40" stroke="#000" stroke-width="1.5"/>
<text x="97.16" y="828.00" font-size="11.3" textLength="6.68" lengthAdjust="spacingAndGlyphs" fill="#000">1</text>
<line x1="123.90" y1="809.20" x2="123.90" y2="813.40" stroke="#000" stroke-width="1.5"/>
<text x="120.56" y="828.00" font-size="11.3" textLength="6.68" lengthAdjust="spacingAndGlyphs" fill="#000">4</text>
<line x1="147.10" y1="809.20" x2="147.10" y2="813.40" stroke="#000" stroke-width="1.5"/>
<text x="140.42" y="828.00" font-size="11.3" textLength="13.36" lengthAdjust="spacingAndGlyphs" fill="#000">16</text>
<line x1="170.40" y1="809.20" x2="170.40" y2="813.40" stroke="#000" stroke-width="1.5"/>
<text x="163.72" y="828.00" font-size="11.3" textLength="13.36" lengthAdjust="spacingAndGlyphs" fill="#000">64</text>
<line x1="193.70" y1="809.20" x2="193.70" y2="813.40" stroke="#000" stroke-width="1.5"/>
<text x="183.68" y="828.00" font-size="11.3" textLength="20.04" lengthAdjust="spacingAndGlyphs" fill="#000">256</text>
<text transform="translate(38.50,768.30) rotate(-90) scale(0.5,1)" x="1.17" y="0" font-size="14.4" text-anchor="middle" letter-spacing="2.34" fill="#000" stroke="#000" stroke-width="0.5">Cell number</text>
<text x="125.00" y="846.70" font-size="13.4" textLength="25.20" lengthAdjust="spacingAndGlyphs" fill="#000" stroke="#000" stroke-width="0.45">[CHX]</text>
<text x="154.30" y="846.70" font-size="13.4" textLength="15.60" lengthAdjust="spacingAndGlyphs" fill="#000" stroke="#000" stroke-width="0.45">&#181;M</text>
<polyline points="96.40,739.50 108.10,739.50 119.70,739.90 131.20,741.50 142.90,739.50 154.40,739.30 166.10,740.50 177.70,739.50 189.40,740.90 201.30,740.90" fill="none" stroke="#4f9f3b" stroke-width="1.35" stroke-linejoin="round"/>
<circle cx="96.40" cy="739.50" r="1.95" fill="#fff" stroke="#4f9f3b" stroke-width="1.2"/>
<circle cx="108.10" cy="739.50" r="1.95" fill="#fff" stroke="#4f9f3b" stroke-width="1.2"/>
<circle cx="119.70" cy="739.90" r="1.95" fill="#fff" stroke="#4f9f3b" stroke-width="1.2"/>
<circle cx="131.20" cy="741.50" r="1.95" fill="#fff" stroke="#4f9f3b" stroke-width="1.2"/>
<circle cx="142.90" cy="739.50" r="1.95" fill="#fff" stroke="#4f9f3b" stroke-width="1.2"/>
<circle cx="154.40" cy="739.30" r="1.95" fill="#fff" stroke="#4f9f3b" stroke-width="1.2"/>
<circle cx="166.10" cy="740.50" r="1.95" fill="#fff" stroke="#4f9f3b" stroke-width="1.2"/>
<circle cx="177.70" cy="739.50" r="1.95" fill="#fff" stroke="#4f9f3b" stroke-width="1.2"/>
<circle cx="189.40" cy="740.90" r="1.95" fill="#fff" stroke="#4f9f3b" stroke-width="1.2"/>
<circle cx="201.30" cy="740.90" r="1.95" fill="#fff" stroke="#4f9f3b" stroke-width="1.2"/>
<polyline points="96.40,737.50 108.10,736.40 119.70,737.10 131.20,736.80 142.90,736.40 154.40,738.40 166.10,737.50 177.70,737.10 189.40,736.80 201.30,737.20" fill="none" stroke="#e58d18" stroke-width="1.35" stroke-linejoin="round"/>
<path d="M96.40 734.90L98.85 739.25L93.95 739.25Z" fill="#fff" stroke="#e58d18" stroke-width="1.25" stroke-linejoin="round"/>
<path d="M108.10 733.80L110.55 738.15L105.65 738.15Z" fill="#fff" stroke="#e58d18" stroke-width="1.25" stroke-linejoin="round"/>
<path d="M119.70 734.50L122.15 738.85L117.25 738.85Z" fill="#fff" stroke="#e58d18" stroke-width="1.25" stroke-linejoin="round"/>
<path d="M131.20 734.20L133.65 738.55L128.75 738.55Z" fill="#fff" stroke="#e58d18" stroke-width="1.25" stroke-linejoin="round"/>
<path d="M142.90 733.80L145.35 738.15L140.45 738.15Z" fill="#fff" stroke="#e58d18" stroke-width="1.25" stroke-linejoin="round"/>
<path d="M154.40 735.80L156.85 740.15L151.95 740.15Z" fill="#fff" stroke="#e58d18" stroke-width="1.25" stroke-linejoin="round"/>
<path d="M166.10 734.90L168.55 739.25L163.65 739.25Z" fill="#fff" stroke="#e58d18" stroke-width="1.25" stroke-linejoin="round"/>
<path d="M177.70 734.50L180.15 738.85L175.25 738.85Z" fill="#fff" stroke="#e58d18" stroke-width="1.25" stroke-linejoin="round"/>
<path d="M189.40 734.20L191.85 738.55L186.95 738.55Z" fill="#fff" stroke="#e58d18" stroke-width="1.25" stroke-linejoin="round"/>
<path d="M201.30 734.60L203.75 738.95L198.85 738.95Z" fill="#fff" stroke="#e58d18" stroke-width="1.25" stroke-linejoin="round"/>
<polyline points="96.40,743.10 108.10,745.60 119.70,750.70 131.20,757.00 142.90,759.70 154.40,759.00 166.10,762.00 177.70,761.00 189.40,763.30 201.30,765.80" fill="none" stroke="#2b4a8c" stroke-width="1.35" stroke-linejoin="round"/>
<path d="M177.70 759.00V763.00M175.90 759.00H179.50M175.90 763.00H179.50" stroke="#1c3a78" stroke-width="1.0" fill="none"/>
<circle cx="96.40" cy="743.10" r="2.0" fill="#1c3a78"/>
<circle cx="108.10" cy="745.60" r="2.0" fill="#1c3a78"/>
<circle cx="119.70" cy="750.70" r="2.0" fill="#1c3a78"/>
<circle cx="131.20" cy="757.00" r="2.0" fill="#1c3a78"/>
<circle cx="142.90" cy="759.70" r="2.0" fill="#1c3a78"/>
<circle cx="154.40" cy="759.00" r="2.0" fill="#1c3a78"/>
<circle cx="166.10" cy="762.00" r="2.0" fill="#1c3a78"/>
<circle cx="177.70" cy="761.00" r="2.0" fill="#1c3a78"/>
<circle cx="189.40" cy="763.30" r="2.0" fill="#1c3a78"/>
<circle cx="201.30" cy="765.80" r="2.0" fill="#1c3a78"/>
<polyline points="96.40,743.10 108.10,750.70 119.70,763.70 131.20,781.60 142.90,786.00 154.40,786.40 166.10,791.30 177.70,787.30 189.40,790.30 201.30,792.70" fill="none" stroke="#b3103a" stroke-width="1.35" stroke-linejoin="round"/>
<path d="M108.10 748.70V752.70M106.30 748.70H109.90M106.30 752.70H109.90" stroke="#a8002c" stroke-width="1.0" fill="none"/>
<path d="M119.70 758.70V768.70M117.90 758.70H121.50M117.90 768.70H121.50" stroke="#a8002c" stroke-width="1.0" fill="none"/>
<path d="M131.20 778.10V785.10M129.40 778.10H133.00M129.40 785.10H133.00" stroke="#a8002c" stroke-width="1.0" fill="none"/>
<path d="M154.40 782.90V789.90M152.60 782.90H156.20M152.60 789.90H156.20" stroke="#a8002c" stroke-width="1.0" fill="none"/>
<path d="M177.70 784.30V790.30M175.90 784.30H179.50M175.90 790.30H179.50" stroke="#a8002c" stroke-width="1.0" fill="none"/>
<path d="M201.30 789.70V795.70M199.50 789.70H203.10M199.50 795.70H203.10" stroke="#a8002c" stroke-width="1.0" fill="none"/>
<path d="M96.40 740.50L98.85 744.85L93.95 744.85Z" fill="#a8002c"/>
<path d="M108.10 748.10L110.55 752.45L105.65 752.45Z" fill="#a8002c"/>
<path d="M119.70 761.10L122.15 765.45L117.25 765.45Z" fill="#a8002c"/>
<path d="M131.20 779.00L133.65 783.35L128.75 783.35Z" fill="#a8002c"/>
<path d="M142.90 783.40L145.35 787.75L140.45 787.75Z" fill="#a8002c"/>
<path d="M154.40 783.80L156.85 788.15L151.95 788.15Z" fill="#a8002c"/>
<path d="M166.10 788.70L168.55 793.05L163.65 793.05Z" fill="#a8002c"/>
<path d="M177.70 784.70L180.15 789.05L175.25 789.05Z" fill="#a8002c"/>
<path d="M189.40 787.70L191.85 792.05L186.95 792.05Z" fill="#a8002c"/>
<path d="M201.30 790.10L203.75 794.45L198.85 794.45Z" fill="#a8002c"/>
<line x1="217.10" y1="735.50" x2="237.80" y2="735.50" stroke="#4f9f3b" stroke-width="1.2"/>
<circle cx="227.70" cy="735.50" r="1.95" fill="#fff" stroke="#4f9f3b" stroke-width="1.2"/>
<text x="243.20" y="738.80" font-size="10.6" textLength="23.7" lengthAdjust="spacingAndGlyphs" font-style="italic" fill="#000">Bak1</text>
<text x="268.30" y="734.50" font-size="7.0" textLength="7.6" lengthAdjust="spacingAndGlyphs" font-style="italic" fill="#000">-/-</text>
<text x="278.70" y="738.80" font-size="10.6" textLength="15.8" lengthAdjust="spacingAndGlyphs" font-style="italic" fill="#000">Bax</text>
<text x="295.60" y="734.50" font-size="7.0" textLength="13.0" lengthAdjust="spacingAndGlyphs" font-style="italic" fill="#000">&#916;/&#916;</text>
<text x="312.00" y="738.80" font-size="10.6" textLength="21.4" lengthAdjust="spacingAndGlyphs" font-style="italic" fill="#000">Nxf1</text>
<text x="334.80" y="734.50" font-size="7.0" textLength="11.6" lengthAdjust="spacingAndGlyphs" font-style="italic" fill="#000">+/+</text>
<line x1="217.10" y1="751.20" x2="237.80" y2="751.20" stroke="#e58d18" stroke-width="1.2"/>
<path d="M227.70 748.60L230.15 752.95L225.25 752.95Z" fill="#fff" stroke="#e58d18" stroke-width="1.25" stroke-linejoin="round"/>
<text x="243.20" y="754.50" font-size="10.6" textLength="23.7" lengthAdjust="spacingAndGlyphs" font-style="italic" fill="#000">Bak1</text>
<text x="268.30" y="750.20" font-size="7.0" textLength="7.6" lengthAdjust="spacingAndGlyphs" font-style="italic" fill="#000">-/-</text>
<text x="278.70" y="754.50" font-size="10.6" textLength="15.8" lengthAdjust="spacingAndGlyphs" font-style="italic" fill="#000">Bax</text>
<text x="295.60" y="750.20" font-size="7.0" textLength="13.0" lengthAdjust="spacingAndGlyphs" font-style="italic" fill="#000">&#916;/&#916;</text>
<text x="310.40" y="754.50" font-size="10.6" textLength="21.4" lengthAdjust="spacingAndGlyphs" font-style="italic" fill="#000">Nxf1</text>
<text x="332.80" y="750.20" font-size="7.0" textLength="32.2" lengthAdjust="spacingAndGlyphs" font-style="italic" fill="#000">C587R/+</text>
<line x1="217.10" y1="766.80" x2="237.80" y2="766.80" stroke="#2b4a8c" stroke-width="1.2"/>
<circle cx="227.70" cy="766.80" r="2.0" fill="#1c3a78"/>
<text x="243.20" y="770.10" font-size="10.6" textLength="23.7" lengthAdjust="spacingAndGlyphs" font-style="italic" fill="#000">Bak1</text>
<text x="268.30" y="765.80" font-size="7.0" textLength="7.6" lengthAdjust="spacingAndGlyphs" font-style="italic" fill="#000">-/-</text>
<text x="278.70" y="770.10" font-size="10.6" textLength="15.8" lengthAdjust="spacingAndGlyphs" font-style="italic" fill="#000">Bax</text>
<text x="295.60" y="765.80" font-size="7.0" textLength="10.6" lengthAdjust="spacingAndGlyphs" font-style="italic" fill="#000">fl/fl</text>
<text x="308.80" y="770.10" font-size="10.6" textLength="21.4" lengthAdjust="spacingAndGlyphs" font-style="italic" fill="#000">Nxf1</text>
<text x="331.60" y="765.80" font-size="7.0" textLength="11.6" lengthAdjust="spacingAndGlyphs" font-style="italic" fill="#000">+/+</text>
<line x1="217.10" y1="782.40" x2="237.80" y2="782.40" stroke="#b3103a" stroke-width="1.2"/>
<path d="M227.70 779.80L230.15 784.15L225.25 784.15Z" fill="#a8002c"/>
<text x="243.20" y="785.70" font-size="10.6" textLength="23.7" lengthAdjust="spacingAndGlyphs" font-style="italic" fill="#000">Bak1</text>
<text x="268.30" y="781.40" font-size="7.0" textLength="7.6" lengthAdjust="spacingAndGlyphs" font-style="italic" fill="#000">-/-</text>
<text x="278.70" y="785.70" font-size="10.6" textLength="15.8" lengthAdjust="spacingAndGlyphs" font-style="italic" fill="#000">Bax</text>
<text x="295.60" y="781.40" font-size="7.0" textLength="10.6" lengthAdjust="spacingAndGlyphs" font-style="italic" fill="#000">fl/fl</text>
<text x="308.80" y="785.70" font-size="10.6" textLength="21.4" lengthAdjust="spacingAndGlyphs" font-style="italic" fill="#000">Nxf1</text>
<text x="331.20" y="781.40" font-size="7.0" textLength="32.2" lengthAdjust="spacingAndGlyphs" font-style="italic" fill="#000">C587R/+</text>
<rect x="0" y="0" width="520" height="1.5" fill="#000"/>
<rect x="0" y="0" width="1.55" height="861" fill="#000"/>
<rect x="518.2" y="0" width="1.8" height="861" fill="#000"/>
<rect x="0" y="859.2" width="520" height="1.8" fill="#000"/>
</svg></body></html>
